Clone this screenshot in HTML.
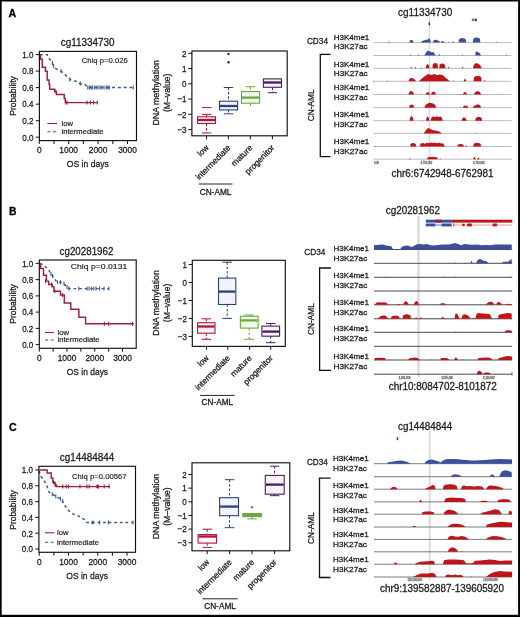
<!DOCTYPE html>
<html><head><meta charset="utf-8"><style>
html,body{margin:0;padding:0;background:#fff;width:520px;height:617px;overflow:hidden}
svg{display:block;filter:blur(0.3px)}
text{font-family:"Liberation Sans", sans-serif;stroke:currentColor;stroke-width:0.28px;paint-order:stroke}
</style></head><body>
<svg width="520" height="617" viewBox="0 0 520 617">
<rect width="520" height="617" fill="#fff"/>
<rect x="0.00" y="0.00" width="520.00" height="1.50" fill="#000"/>
<rect x="0.00" y="0.00" width="1.70" height="617.00" fill="#000"/>
<rect x="518.10" y="0.00" width="1.90" height="617.00" fill="#000"/>
<rect x="0.00" y="614.80" width="520.00" height="2.20" fill="#000"/>
<text x="8.40" y="16.90" font-size="11.8" fill="#000" color="#000" textLength="7.70" lengthAdjust="spacingAndGlyphs" font-weight="bold">A</text>
<text x="9.00" y="214.50" font-size="11.8" fill="#000" color="#000" textLength="7.50" lengthAdjust="spacingAndGlyphs" font-weight="bold">B</text>
<text x="9.10" y="431.20" font-size="11.8" fill="#000" color="#000" textLength="7.70" lengthAdjust="spacingAndGlyphs" font-weight="bold">C</text>
<path d="M39.90,54.60 L40.60,54.60 L40.60,59.20 L42.20,59.20 L42.20,67.30 L45.40,67.30 L45.40,71.30 L47.20,71.30 L47.20,80.00 L49.10,80.00 L49.10,84.60 L49.70,84.60 L49.70,89.20 L54.60,89.20 L54.60,91.20 L56.40,91.20 L56.40,94.40 L64.20,94.40 L64.20,98.50 L65.30,98.50 L65.30,102.60 L97.30,102.60" fill="none" stroke="#a0203c" stroke-width="1.45" stroke-linejoin="miter"/>
<line x1="55.00" y1="89.20" x2="55.00" y2="93.20" stroke="#a0203c" stroke-width="1.1"/>
<line x1="65.80" y1="100.60" x2="65.80" y2="104.60" stroke="#a0203c" stroke-width="1.1"/>
<line x1="67.00" y1="100.60" x2="67.00" y2="104.60" stroke="#a0203c" stroke-width="1.1"/>
<line x1="87.10" y1="100.60" x2="87.10" y2="104.60" stroke="#a0203c" stroke-width="1.1"/>
<line x1="90.30" y1="100.60" x2="90.30" y2="104.60" stroke="#a0203c" stroke-width="1.1"/>
<line x1="93.50" y1="100.60" x2="93.50" y2="104.60" stroke="#a0203c" stroke-width="1.1"/>
<line x1="97.30" y1="100.60" x2="97.30" y2="104.60" stroke="#a0203c" stroke-width="1.1"/>
<path d="M39.90,54.60 L47.40,54.60 L47.40,55.80 L50.80,61.00 L53.70,66.20 L55.50,68.50 L61.20,71.30 L64.70,74.20 L69.30,78.80 L71.60,80.60 L76.20,81.20 L79.70,83.50 L85.50,84.60 L87.20,87.50 L133.50,87.50" fill="none" stroke="#3d5a8f" stroke-width="1.45" stroke-dasharray="3,2.8" stroke-linejoin="miter"/>
<line x1="52.50" y1="61.00" x2="52.50" y2="65.00" stroke="#3d5a8f" stroke-width="1.1"/>
<line x1="53.70" y1="64.20" x2="53.70" y2="68.20" stroke="#3d5a8f" stroke-width="1.1"/>
<line x1="61.20" y1="69.30" x2="61.20" y2="73.30" stroke="#3d5a8f" stroke-width="1.1"/>
<line x1="69.90" y1="77.50" x2="69.90" y2="81.50" stroke="#3d5a8f" stroke-width="1.1"/>
<line x1="80.30" y1="81.50" x2="80.30" y2="85.50" stroke="#3d5a8f" stroke-width="1.1"/>
<line x1="87.80" y1="85.50" x2="87.80" y2="89.50" stroke="#3d5a8f" stroke-width="1.1"/>
<line x1="89.50" y1="85.50" x2="89.50" y2="89.50" stroke="#3d5a8f" stroke-width="1.1"/>
<line x1="91.00" y1="85.50" x2="91.00" y2="89.50" stroke="#3d5a8f" stroke-width="1.1"/>
<line x1="92.40" y1="85.50" x2="92.40" y2="89.50" stroke="#3d5a8f" stroke-width="1.1"/>
<line x1="94.30" y1="85.50" x2="94.30" y2="89.50" stroke="#3d5a8f" stroke-width="1.1"/>
<line x1="96.20" y1="85.50" x2="96.20" y2="89.50" stroke="#3d5a8f" stroke-width="1.1"/>
<line x1="98.10" y1="85.50" x2="98.10" y2="89.50" stroke="#3d5a8f" stroke-width="1.1"/>
<line x1="100.00" y1="85.50" x2="100.00" y2="89.50" stroke="#3d5a8f" stroke-width="1.1"/>
<line x1="101.90" y1="85.50" x2="101.90" y2="89.50" stroke="#3d5a8f" stroke-width="1.1"/>
<line x1="104.00" y1="85.50" x2="104.00" y2="89.50" stroke="#3d5a8f" stroke-width="1.1"/>
<line x1="106.20" y1="85.50" x2="106.20" y2="89.50" stroke="#3d5a8f" stroke-width="1.1"/>
<line x1="107.80" y1="85.50" x2="107.80" y2="89.50" stroke="#3d5a8f" stroke-width="1.1"/>
<line x1="109.30" y1="85.50" x2="109.30" y2="89.50" stroke="#3d5a8f" stroke-width="1.1"/>
<line x1="133.20" y1="85.50" x2="133.20" y2="89.50" stroke="#3d5a8f" stroke-width="1.1"/>
<rect x="39.40" y="51.40" width="97.10" height="89.20" fill="none" stroke="#111" stroke-width="1.15"/>
<line x1="35.80" y1="137.20" x2="39.40" y2="137.20" stroke="#111" stroke-width="1"/>
<text x="33.40" y="140.50" font-size="9.2" fill="#1c1c1c" color="#1c1c1c" text-anchor="end" textLength="11.12" lengthAdjust="spacingAndGlyphs">0.0</text>
<line x1="35.80" y1="120.68" x2="39.40" y2="120.68" stroke="#111" stroke-width="1"/>
<text x="33.40" y="123.98" font-size="9.2" fill="#1c1c1c" color="#1c1c1c" text-anchor="end" textLength="11.12" lengthAdjust="spacingAndGlyphs">0.2</text>
<line x1="35.80" y1="104.16" x2="39.40" y2="104.16" stroke="#111" stroke-width="1"/>
<text x="33.40" y="107.46" font-size="9.2" fill="#1c1c1c" color="#1c1c1c" text-anchor="end" textLength="11.12" lengthAdjust="spacingAndGlyphs">0.4</text>
<line x1="35.80" y1="87.64" x2="39.40" y2="87.64" stroke="#111" stroke-width="1"/>
<text x="33.40" y="90.94" font-size="9.2" fill="#1c1c1c" color="#1c1c1c" text-anchor="end" textLength="11.12" lengthAdjust="spacingAndGlyphs">0.6</text>
<line x1="35.80" y1="71.12" x2="39.40" y2="71.12" stroke="#111" stroke-width="1"/>
<text x="33.40" y="74.42" font-size="9.2" fill="#1c1c1c" color="#1c1c1c" text-anchor="end" textLength="11.12" lengthAdjust="spacingAndGlyphs">0.8</text>
<line x1="35.80" y1="54.60" x2="39.40" y2="54.60" stroke="#111" stroke-width="1"/>
<text x="33.40" y="57.90" font-size="9.2" fill="#1c1c1c" color="#1c1c1c" text-anchor="end" textLength="11.12" lengthAdjust="spacingAndGlyphs">1.0</text>
<line x1="39.25" y1="140.60" x2="39.25" y2="144.00" stroke="#111" stroke-width="1"/>
<text x="39.25" y="153.20" font-size="9.2" fill="#1c1c1c" color="#1c1c1c" text-anchor="middle" textLength="4.67" lengthAdjust="spacingAndGlyphs">0</text>
<line x1="53.96" y1="140.60" x2="53.96" y2="144.00" stroke="#111" stroke-width="1"/>
<line x1="68.67" y1="140.60" x2="68.67" y2="144.00" stroke="#111" stroke-width="1"/>
<text x="68.67" y="153.20" font-size="9.2" fill="#1c1c1c" color="#1c1c1c" text-anchor="middle" textLength="18.69" lengthAdjust="spacingAndGlyphs">1000</text>
<line x1="83.38" y1="140.60" x2="83.38" y2="144.00" stroke="#111" stroke-width="1"/>
<line x1="98.09" y1="140.60" x2="98.09" y2="144.00" stroke="#111" stroke-width="1"/>
<text x="98.09" y="153.20" font-size="9.2" fill="#1c1c1c" color="#1c1c1c" text-anchor="middle" textLength="18.69" lengthAdjust="spacingAndGlyphs">2000</text>
<line x1="112.80" y1="140.60" x2="112.80" y2="144.00" stroke="#111" stroke-width="1"/>
<line x1="127.51" y1="140.60" x2="127.51" y2="144.00" stroke="#111" stroke-width="1"/>
<text x="127.51" y="153.20" font-size="9.2" fill="#1c1c1c" color="#1c1c1c" text-anchor="middle" textLength="18.69" lengthAdjust="spacingAndGlyphs">3000</text>
<text x="60.80" y="45.70" font-size="10.2" fill="#1c1c1c" color="#1c1c1c" textLength="53.80" lengthAdjust="spacingAndGlyphs">cg11334730</text>
<text x="81.80" y="62.80" font-size="7.9" fill="#1c1c1c" color="#1c1c1c" textLength="45.90" lengthAdjust="spacingAndGlyphs" style="stroke-width:0.16px">Chiq p=0.026</text>
<text x="66.80" y="167.00" font-size="9.9" fill="#1c1c1c" color="#1c1c1c" textLength="42.00" lengthAdjust="spacingAndGlyphs">OS in days</text>
<text x="15.70" y="96.00" font-size="9.6" fill="#1c1c1c" color="#1c1c1c" text-anchor="middle" textLength="39.50" lengthAdjust="spacingAndGlyphs" transform="rotate(-90 15.70 96.00)">Probability</text>
<line x1="47.40" y1="123.50" x2="57.20" y2="123.50" stroke="#a0203c" stroke-width="1.1"/>
<line x1="47.40" y1="131.80" x2="57.20" y2="131.80" stroke="#3d5a8f" stroke-width="1.1" stroke-dasharray="3.2,2.4"/>
<text x="61.50" y="125.80" font-size="7.9" fill="#1c1c1c" color="#1c1c1c" textLength="11.50" lengthAdjust="spacingAndGlyphs" style="stroke-width:0.2px">low</text>
<text x="61.50" y="134.20" font-size="7.9" fill="#1c1c1c" color="#1c1c1c" textLength="42.00" lengthAdjust="spacingAndGlyphs" style="stroke-width:0.2px">intermediate</text>
<path d="M39.90,263.40 L40.60,263.40 L40.60,268.40 L43.50,268.40 L43.50,275.30 L46.40,275.30 L46.40,281.10 L48.70,281.10 L48.70,284.50 L52.20,284.50 L52.20,286.80 L53.90,286.80 L53.90,291.20 L60.50,291.20 L60.50,295.00 L64.30,295.00 L64.30,303.00 L70.80,303.00 L70.80,309.30 L78.90,309.30 L78.90,317.20 L85.60,317.20 L85.60,323.80 L133.80,323.80" fill="none" stroke="#a0203c" stroke-width="1.45" stroke-linejoin="miter"/>
<line x1="45.50" y1="279.10" x2="45.50" y2="283.10" stroke="#a0203c" stroke-width="1.1"/>
<line x1="51.50" y1="282.50" x2="51.50" y2="286.50" stroke="#a0203c" stroke-width="1.1"/>
<line x1="54.80" y1="289.20" x2="54.80" y2="293.20" stroke="#a0203c" stroke-width="1.1"/>
<line x1="62.50" y1="293.00" x2="62.50" y2="297.00" stroke="#a0203c" stroke-width="1.1"/>
<line x1="104.40" y1="321.80" x2="104.40" y2="325.80" stroke="#a0203c" stroke-width="1.1"/>
<line x1="108.70" y1="321.80" x2="108.70" y2="325.80" stroke="#a0203c" stroke-width="1.1"/>
<line x1="132.50" y1="321.80" x2="132.50" y2="325.80" stroke="#a0203c" stroke-width="1.1"/>
<path d="M39.90,263.40 L42.30,264.60 L45.00,266.50 L47.50,268.20 L49.80,271.80 L52.20,275.30 L54.50,278.80 L56.80,282.20 L60.20,282.20 L62.50,282.80 L66.00,285.70 L68.90,288.60 L108.80,288.60" fill="none" stroke="#3d5a8f" stroke-width="1.45" stroke-dasharray="2.8,2.8" stroke-linejoin="miter"/>
<line x1="51.00" y1="272.00" x2="51.00" y2="276.00" stroke="#3d5a8f" stroke-width="1.1"/>
<line x1="52.50" y1="274.00" x2="52.50" y2="278.00" stroke="#3d5a8f" stroke-width="1.1"/>
<line x1="57.50" y1="280.20" x2="57.50" y2="284.20" stroke="#3d5a8f" stroke-width="1.1"/>
<line x1="60.50" y1="280.20" x2="60.50" y2="284.20" stroke="#3d5a8f" stroke-width="1.1"/>
<line x1="64.00" y1="281.50" x2="64.00" y2="285.50" stroke="#3d5a8f" stroke-width="1.1"/>
<line x1="67.00" y1="285.00" x2="67.00" y2="289.00" stroke="#3d5a8f" stroke-width="1.1"/>
<line x1="69.00" y1="286.60" x2="69.00" y2="290.60" stroke="#3d5a8f" stroke-width="1.1"/>
<line x1="78.80" y1="286.60" x2="78.80" y2="290.60" stroke="#3d5a8f" stroke-width="1.1"/>
<line x1="87.00" y1="286.60" x2="87.00" y2="290.60" stroke="#3d5a8f" stroke-width="1.1"/>
<line x1="89.00" y1="286.60" x2="89.00" y2="290.60" stroke="#3d5a8f" stroke-width="1.1"/>
<line x1="91.50" y1="286.60" x2="91.50" y2="290.60" stroke="#3d5a8f" stroke-width="1.1"/>
<line x1="93.80" y1="286.60" x2="93.80" y2="290.60" stroke="#3d5a8f" stroke-width="1.1"/>
<line x1="96.00" y1="286.60" x2="96.00" y2="290.60" stroke="#3d5a8f" stroke-width="1.1"/>
<line x1="99.60" y1="286.60" x2="99.60" y2="290.60" stroke="#3d5a8f" stroke-width="1.1"/>
<line x1="104.00" y1="286.60" x2="104.00" y2="290.60" stroke="#3d5a8f" stroke-width="1.1"/>
<line x1="108.80" y1="286.60" x2="108.80" y2="290.60" stroke="#3d5a8f" stroke-width="1.1"/>
<rect x="39.30" y="260.00" width="96.90" height="88.30" fill="none" stroke="#111" stroke-width="1.15"/>
<line x1="35.70" y1="344.60" x2="39.30" y2="344.60" stroke="#111" stroke-width="1"/>
<text x="33.30" y="347.90" font-size="9.2" fill="#1c1c1c" color="#1c1c1c" text-anchor="end" textLength="11.12" lengthAdjust="spacingAndGlyphs">0.0</text>
<line x1="35.70" y1="328.36" x2="39.30" y2="328.36" stroke="#111" stroke-width="1"/>
<text x="33.30" y="331.66" font-size="9.2" fill="#1c1c1c" color="#1c1c1c" text-anchor="end" textLength="11.12" lengthAdjust="spacingAndGlyphs">0.2</text>
<line x1="35.70" y1="312.12" x2="39.30" y2="312.12" stroke="#111" stroke-width="1"/>
<text x="33.30" y="315.42" font-size="9.2" fill="#1c1c1c" color="#1c1c1c" text-anchor="end" textLength="11.12" lengthAdjust="spacingAndGlyphs">0.4</text>
<line x1="35.70" y1="295.88" x2="39.30" y2="295.88" stroke="#111" stroke-width="1"/>
<text x="33.30" y="299.18" font-size="9.2" fill="#1c1c1c" color="#1c1c1c" text-anchor="end" textLength="11.12" lengthAdjust="spacingAndGlyphs">0.6</text>
<line x1="35.70" y1="279.64" x2="39.30" y2="279.64" stroke="#111" stroke-width="1"/>
<text x="33.30" y="282.94" font-size="9.2" fill="#1c1c1c" color="#1c1c1c" text-anchor="end" textLength="11.12" lengthAdjust="spacingAndGlyphs">0.8</text>
<line x1="35.70" y1="263.40" x2="39.30" y2="263.40" stroke="#111" stroke-width="1"/>
<text x="33.30" y="266.70" font-size="9.2" fill="#1c1c1c" color="#1c1c1c" text-anchor="end" textLength="11.12" lengthAdjust="spacingAndGlyphs">1.0</text>
<line x1="39.25" y1="348.30" x2="39.25" y2="351.70" stroke="#111" stroke-width="1"/>
<text x="39.25" y="361.40" font-size="9.2" fill="#1c1c1c" color="#1c1c1c" text-anchor="middle" textLength="4.67" lengthAdjust="spacingAndGlyphs">0</text>
<line x1="53.12" y1="348.30" x2="53.12" y2="351.70" stroke="#111" stroke-width="1"/>
<line x1="67.00" y1="348.30" x2="67.00" y2="351.70" stroke="#111" stroke-width="1"/>
<text x="67.00" y="361.40" font-size="9.2" fill="#1c1c1c" color="#1c1c1c" text-anchor="middle" textLength="18.69" lengthAdjust="spacingAndGlyphs">1000</text>
<line x1="80.88" y1="348.30" x2="80.88" y2="351.70" stroke="#111" stroke-width="1"/>
<line x1="94.75" y1="348.30" x2="94.75" y2="351.70" stroke="#111" stroke-width="1"/>
<text x="94.75" y="361.40" font-size="9.2" fill="#1c1c1c" color="#1c1c1c" text-anchor="middle" textLength="18.69" lengthAdjust="spacingAndGlyphs">2000</text>
<line x1="108.62" y1="348.30" x2="108.62" y2="351.70" stroke="#111" stroke-width="1"/>
<line x1="122.50" y1="348.30" x2="122.50" y2="351.70" stroke="#111" stroke-width="1"/>
<text x="122.50" y="361.40" font-size="9.2" fill="#1c1c1c" color="#1c1c1c" text-anchor="middle" textLength="18.69" lengthAdjust="spacingAndGlyphs">3000</text>
<text x="59.60" y="254.50" font-size="10.2" fill="#1c1c1c" color="#1c1c1c" textLength="53.80" lengthAdjust="spacingAndGlyphs">cg20281962</text>
<text x="70.80" y="268.50" font-size="7.9" fill="#1c1c1c" color="#1c1c1c" textLength="56.50" lengthAdjust="spacingAndGlyphs" style="stroke-width:0.16px">Chiq p=0.0131</text>
<text x="66.80" y="375.00" font-size="9.9" fill="#1c1c1c" color="#1c1c1c" textLength="41.30" lengthAdjust="spacingAndGlyphs">OS in days</text>
<text x="15.70" y="304.00" font-size="9.6" fill="#1c1c1c" color="#1c1c1c" text-anchor="middle" textLength="39.50" lengthAdjust="spacingAndGlyphs" transform="rotate(-90 15.70 304.00)">Probability</text>
<line x1="45.00" y1="332.50" x2="53.80" y2="332.50" stroke="#a0203c" stroke-width="1.1"/>
<line x1="45.00" y1="340.00" x2="53.80" y2="340.00" stroke="#3d5a8f" stroke-width="1.1" stroke-dasharray="3.2,2.4"/>
<text x="57.50" y="334.80" font-size="7.9" fill="#1c1c1c" color="#1c1c1c" textLength="11.50" lengthAdjust="spacingAndGlyphs" style="stroke-width:0.2px">low</text>
<text x="57.50" y="342.40" font-size="7.9" fill="#1c1c1c" color="#1c1c1c" textLength="42.00" lengthAdjust="spacingAndGlyphs" style="stroke-width:0.2px">intermediate</text>
<path d="M39.40,470.00 L47.20,470.00 L47.20,473.00 L51.20,473.00 L51.20,478.00 L52.80,478.00 L52.80,482.20 L55.00,482.20 L55.00,485.00 L56.50,485.00 L56.50,486.60 L110.00,486.60" fill="none" stroke="#a0203c" stroke-width="1.45" stroke-linejoin="miter"/>
<line x1="53.50" y1="480.20" x2="53.50" y2="484.20" stroke="#a0203c" stroke-width="1.1"/>
<line x1="55.50" y1="483.00" x2="55.50" y2="487.00" stroke="#a0203c" stroke-width="1.1"/>
<line x1="62.70" y1="484.60" x2="62.70" y2="488.60" stroke="#a0203c" stroke-width="1.1"/>
<line x1="66.20" y1="484.60" x2="66.20" y2="488.60" stroke="#a0203c" stroke-width="1.1"/>
<line x1="68.50" y1="484.60" x2="68.50" y2="488.60" stroke="#a0203c" stroke-width="1.1"/>
<line x1="80.00" y1="484.60" x2="80.00" y2="488.60" stroke="#a0203c" stroke-width="1.1"/>
<line x1="86.90" y1="484.60" x2="86.90" y2="488.60" stroke="#a0203c" stroke-width="1.1"/>
<line x1="89.20" y1="484.60" x2="89.20" y2="488.60" stroke="#a0203c" stroke-width="1.1"/>
<line x1="97.30" y1="484.60" x2="97.30" y2="488.60" stroke="#a0203c" stroke-width="1.1"/>
<line x1="98.50" y1="484.60" x2="98.50" y2="488.60" stroke="#a0203c" stroke-width="1.1"/>
<line x1="104.20" y1="484.60" x2="104.20" y2="488.60" stroke="#a0203c" stroke-width="1.1"/>
<line x1="108.90" y1="484.60" x2="108.90" y2="488.60" stroke="#a0203c" stroke-width="1.1"/>
<path d="M39.40,471.00 L39.60,474.60 L43.00,479.20 L46.50,484.50 L48.80,491.90 L52.30,494.20 L55.80,496.50 L60.40,498.80 L62.70,501.20 L65.00,505.80 L68.50,510.40 L73.00,513.80 L78.80,516.20 L84.60,519.60 L86.90,522.40 L133.00,522.40" fill="none" stroke="#3d5a8f" stroke-width="1.45" stroke-dasharray="2.8,2.8" stroke-linejoin="miter"/>
<line x1="52.30" y1="492.20" x2="52.30" y2="496.20" stroke="#3d5a8f" stroke-width="1.1"/>
<line x1="55.80" y1="494.50" x2="55.80" y2="498.50" stroke="#3d5a8f" stroke-width="1.1"/>
<line x1="60.40" y1="496.80" x2="60.40" y2="500.80" stroke="#3d5a8f" stroke-width="1.1"/>
<line x1="62.70" y1="499.20" x2="62.70" y2="503.20" stroke="#3d5a8f" stroke-width="1.1"/>
<line x1="92.70" y1="520.40" x2="92.70" y2="524.40" stroke="#3d5a8f" stroke-width="1.1"/>
<line x1="99.60" y1="520.40" x2="99.60" y2="524.40" stroke="#3d5a8f" stroke-width="1.1"/>
<line x1="108.40" y1="520.40" x2="108.40" y2="524.40" stroke="#3d5a8f" stroke-width="1.1"/>
<line x1="133.00" y1="520.40" x2="133.00" y2="524.40" stroke="#3d5a8f" stroke-width="1.1"/>
<rect x="38.90" y="466.30" width="96.60" height="86.00" fill="none" stroke="#111" stroke-width="1.15"/>
<line x1="35.30" y1="549.00" x2="38.90" y2="549.00" stroke="#111" stroke-width="1"/>
<text x="32.90" y="552.30" font-size="9.2" fill="#1c1c1c" color="#1c1c1c" text-anchor="end" textLength="11.12" lengthAdjust="spacingAndGlyphs">0.0</text>
<line x1="35.30" y1="533.20" x2="38.90" y2="533.20" stroke="#111" stroke-width="1"/>
<text x="32.90" y="536.50" font-size="9.2" fill="#1c1c1c" color="#1c1c1c" text-anchor="end" textLength="11.12" lengthAdjust="spacingAndGlyphs">0.2</text>
<line x1="35.30" y1="517.40" x2="38.90" y2="517.40" stroke="#111" stroke-width="1"/>
<text x="32.90" y="520.70" font-size="9.2" fill="#1c1c1c" color="#1c1c1c" text-anchor="end" textLength="11.12" lengthAdjust="spacingAndGlyphs">0.4</text>
<line x1="35.30" y1="501.60" x2="38.90" y2="501.60" stroke="#111" stroke-width="1"/>
<text x="32.90" y="504.90" font-size="9.2" fill="#1c1c1c" color="#1c1c1c" text-anchor="end" textLength="11.12" lengthAdjust="spacingAndGlyphs">0.6</text>
<line x1="35.30" y1="485.80" x2="38.90" y2="485.80" stroke="#111" stroke-width="1"/>
<text x="32.90" y="489.10" font-size="9.2" fill="#1c1c1c" color="#1c1c1c" text-anchor="end" textLength="11.12" lengthAdjust="spacingAndGlyphs">0.8</text>
<line x1="35.30" y1="470.00" x2="38.90" y2="470.00" stroke="#111" stroke-width="1"/>
<text x="32.90" y="473.30" font-size="9.2" fill="#1c1c1c" color="#1c1c1c" text-anchor="end" textLength="11.12" lengthAdjust="spacingAndGlyphs">1.0</text>
<line x1="39.25" y1="552.30" x2="39.25" y2="555.70" stroke="#111" stroke-width="1"/>
<text x="39.25" y="565.20" font-size="9.2" fill="#1c1c1c" color="#1c1c1c" text-anchor="middle" textLength="4.67" lengthAdjust="spacingAndGlyphs">0</text>
<line x1="53.88" y1="552.30" x2="53.88" y2="555.70" stroke="#111" stroke-width="1"/>
<line x1="68.50" y1="552.30" x2="68.50" y2="555.70" stroke="#111" stroke-width="1"/>
<text x="68.50" y="565.20" font-size="9.2" fill="#1c1c1c" color="#1c1c1c" text-anchor="middle" textLength="18.69" lengthAdjust="spacingAndGlyphs">1000</text>
<line x1="83.12" y1="552.30" x2="83.12" y2="555.70" stroke="#111" stroke-width="1"/>
<line x1="97.75" y1="552.30" x2="97.75" y2="555.70" stroke="#111" stroke-width="1"/>
<text x="97.75" y="565.20" font-size="9.2" fill="#1c1c1c" color="#1c1c1c" text-anchor="middle" textLength="18.69" lengthAdjust="spacingAndGlyphs">2000</text>
<line x1="112.38" y1="552.30" x2="112.38" y2="555.70" stroke="#111" stroke-width="1"/>
<line x1="127.00" y1="552.30" x2="127.00" y2="555.70" stroke="#111" stroke-width="1"/>
<text x="127.00" y="565.20" font-size="9.2" fill="#1c1c1c" color="#1c1c1c" text-anchor="middle" textLength="18.69" lengthAdjust="spacingAndGlyphs">3000</text>
<text x="59.80" y="460.90" font-size="10.2" fill="#1c1c1c" color="#1c1c1c" textLength="54.60" lengthAdjust="spacingAndGlyphs">cg14484844</text>
<text x="71.90" y="478.50" font-size="7.9" fill="#1c1c1c" color="#1c1c1c" textLength="54.70" lengthAdjust="spacingAndGlyphs" style="stroke-width:0.16px">Chiq p=0.00567</text>
<text x="66.30" y="578.80" font-size="9.9" fill="#1c1c1c" color="#1c1c1c" textLength="41.70" lengthAdjust="spacingAndGlyphs">OS in days</text>
<text x="15.70" y="510.00" font-size="9.6" fill="#1c1c1c" color="#1c1c1c" text-anchor="middle" textLength="39.50" lengthAdjust="spacingAndGlyphs" transform="rotate(-90 15.70 510.00)">Probability</text>
<line x1="45.00" y1="532.80" x2="54.60" y2="532.80" stroke="#a0203c" stroke-width="1.1"/>
<line x1="45.00" y1="542.20" x2="54.60" y2="542.20" stroke="#3d5a8f" stroke-width="1.1" stroke-dasharray="3.2,2.4"/>
<text x="57.00" y="535.10" font-size="7.9" fill="#1c1c1c" color="#1c1c1c" textLength="11.50" lengthAdjust="spacingAndGlyphs" style="stroke-width:0.2px">low</text>
<text x="57.00" y="544.60" font-size="7.9" fill="#1c1c1c" color="#1c1c1c" textLength="42.00" lengthAdjust="spacingAndGlyphs" style="stroke-width:0.2px">intermediate</text>
<circle cx="97.3" cy="486.6" r="1.5" fill="#a0203c"/>
<circle cx="92.7" cy="522.4" r="1.5" fill="#3d5a8f"/>
<line x1="206.50" y1="114.40" x2="206.50" y2="116.80" stroke="#a8183a" stroke-width="1" stroke-dasharray="2.6,1.8"/>
<line x1="201.75" y1="114.40" x2="211.25" y2="114.40" stroke="#a8183a" stroke-width="1"/>
<line x1="206.50" y1="123.50" x2="206.50" y2="133.00" stroke="#a8183a" stroke-width="1" stroke-dasharray="2.6,1.8"/>
<line x1="201.75" y1="133.00" x2="211.25" y2="133.00" stroke="#a8183a" stroke-width="1"/>
<rect x="197.50" y="116.80" width="18.00" height="6.70" fill="#fdf1f4" stroke="#a8183a" stroke-width="1.1"/>
<line x1="198.00" y1="120.00" x2="215.00" y2="120.00" stroke="#a8183a" stroke-width="2.3"/>
<line x1="228.50" y1="87.50" x2="228.50" y2="101.20" stroke="#2b4080" stroke-width="1" stroke-dasharray="2.6,1.8"/>
<line x1="223.75" y1="87.50" x2="233.25" y2="87.50" stroke="#2b4080" stroke-width="1"/>
<line x1="228.50" y1="109.90" x2="228.50" y2="113.80" stroke="#2b4080" stroke-width="1" stroke-dasharray="2.6,1.8"/>
<line x1="223.75" y1="113.80" x2="233.25" y2="113.80" stroke="#2b4080" stroke-width="1"/>
<rect x="219.50" y="101.20" width="18.10" height="8.70" fill="#f1f4fb" stroke="#2b4080" stroke-width="1.1"/>
<line x1="220.00" y1="106.00" x2="237.10" y2="106.00" stroke="#2b4080" stroke-width="2.3"/>
<line x1="250.50" y1="86.70" x2="250.50" y2="91.60" stroke="#68aa3a" stroke-width="1" stroke-dasharray="2.6,1.8"/>
<line x1="245.75" y1="86.70" x2="255.25" y2="86.70" stroke="#68aa3a" stroke-width="1"/>
<line x1="250.50" y1="103.20" x2="250.50" y2="107.30" stroke="#68aa3a" stroke-width="1" stroke-dasharray="2.6,1.8"/>
<rect x="241.50" y="91.60" width="18.10" height="11.60" fill="#f3faee" stroke="#68aa3a" stroke-width="1.1"/>
<line x1="242.00" y1="97.60" x2="259.10" y2="97.60" stroke="#68aa3a" stroke-width="2.3"/>
<line x1="272.50" y1="87.30" x2="272.50" y2="92.70" stroke="#4a1f5e" stroke-width="1" stroke-dasharray="2.6,1.8"/>
<line x1="267.75" y1="92.70" x2="277.25" y2="92.70" stroke="#4a1f5e" stroke-width="1"/>
<rect x="263.40" y="78.90" width="18.10" height="8.40" fill="#f8f1fa" stroke="#4a1f5e" stroke-width="1.1"/>
<line x1="263.90" y1="82.50" x2="281.00" y2="82.50" stroke="#4a1f5e" stroke-width="2.3"/>
<circle cx="228.5" cy="54.0" r="1.2" fill="#1a2a55"/>
<circle cx="228.5" cy="62.2" r="1.2" fill="#1a2a55"/>
<line x1="202.00" y1="107.60" x2="211.50" y2="107.60" stroke="#b3173b" stroke-width="1"/>
<rect x="191.90" y="51.00" width="95.30" height="84.80" fill="none" stroke="#111" stroke-width="1.15"/>
<line x1="188.30" y1="53.28" x2="191.90" y2="53.28" stroke="#111" stroke-width="1"/>
<text x="186.50" y="56.58" font-size="9.2" fill="#1c1c1c" color="#1c1c1c" text-anchor="end" textLength="4.45" lengthAdjust="spacingAndGlyphs">2</text>
<line x1="188.30" y1="68.54" x2="191.90" y2="68.54" stroke="#111" stroke-width="1"/>
<text x="186.50" y="71.84" font-size="9.2" fill="#1c1c1c" color="#1c1c1c" text-anchor="end" textLength="4.45" lengthAdjust="spacingAndGlyphs">1</text>
<line x1="188.30" y1="83.80" x2="191.90" y2="83.80" stroke="#111" stroke-width="1"/>
<text x="186.50" y="87.10" font-size="9.2" fill="#1c1c1c" color="#1c1c1c" text-anchor="end" textLength="4.45" lengthAdjust="spacingAndGlyphs">0</text>
<line x1="188.30" y1="99.06" x2="191.90" y2="99.06" stroke="#111" stroke-width="1"/>
<text x="186.50" y="102.36" font-size="9.2" fill="#1c1c1c" color="#1c1c1c" text-anchor="end" textLength="9.12" lengthAdjust="spacingAndGlyphs">−1</text>
<line x1="188.30" y1="114.32" x2="191.90" y2="114.32" stroke="#111" stroke-width="1"/>
<text x="186.50" y="117.62" font-size="9.2" fill="#1c1c1c" color="#1c1c1c" text-anchor="end" textLength="9.12" lengthAdjust="spacingAndGlyphs">−2</text>
<line x1="188.30" y1="129.58" x2="191.90" y2="129.58" stroke="#111" stroke-width="1"/>
<text x="186.50" y="132.88" font-size="9.2" fill="#1c1c1c" color="#1c1c1c" text-anchor="end" textLength="9.12" lengthAdjust="spacingAndGlyphs">−3</text>
<line x1="206.50" y1="135.80" x2="206.50" y2="139.20" stroke="#111" stroke-width="1"/>
<text x="209.20" y="148.30" font-size="8.4" fill="#1c1c1c" color="#1c1c1c" text-anchor="end" textLength="11.80" lengthAdjust="spacingAndGlyphs" transform="rotate(-45 209.20 148.30)">low</text>
<line x1="228.40" y1="135.80" x2="228.40" y2="139.20" stroke="#111" stroke-width="1"/>
<text x="231.10" y="148.30" font-size="8.4" fill="#1c1c1c" color="#1c1c1c" text-anchor="end" textLength="45.20" lengthAdjust="spacingAndGlyphs" transform="rotate(-45 231.10 148.30)">intermediate</text>
<line x1="250.40" y1="135.80" x2="250.40" y2="139.20" stroke="#111" stroke-width="1"/>
<text x="253.10" y="148.30" font-size="8.4" fill="#1c1c1c" color="#1c1c1c" text-anchor="end" textLength="26.20" lengthAdjust="spacingAndGlyphs" transform="rotate(-45 253.10 148.30)">mature</text>
<line x1="272.40" y1="135.80" x2="272.40" y2="139.20" stroke="#111" stroke-width="1"/>
<text x="275.10" y="148.30" font-size="8.4" fill="#1c1c1c" color="#1c1c1c" text-anchor="end" textLength="37.80" lengthAdjust="spacingAndGlyphs" transform="rotate(-45 275.10 148.30)">progenitor</text>
<line x1="198.60" y1="184.00" x2="232.50" y2="184.00" stroke="#222" stroke-width="1"/>
<text x="215.55" y="194.50" font-size="8.6" fill="#1c1c1c" color="#1c1c1c" text-anchor="middle" textLength="31.80" lengthAdjust="spacingAndGlyphs">CN-AML</text>
<text x="159.30" y="92.80" font-size="9.8" fill="#1c1c1c" color="#1c1c1c" text-anchor="middle" textLength="65.50" lengthAdjust="spacingAndGlyphs" transform="rotate(-90 159.30 92.80)">DNA methylation</text>
<text x="170.20" y="92.80" font-size="9.8" fill="#1c1c1c" color="#1c1c1c" text-anchor="middle" textLength="38.50" lengthAdjust="spacingAndGlyphs" transform="rotate(-90 170.20 92.80)">(M–value)</text>
<line x1="206.30" y1="318.80" x2="206.30" y2="322.70" stroke="#a8183a" stroke-width="1" stroke-dasharray="2.6,1.8"/>
<line x1="201.55" y1="318.80" x2="211.05" y2="318.80" stroke="#a8183a" stroke-width="1"/>
<line x1="206.30" y1="333.20" x2="206.30" y2="339.30" stroke="#a8183a" stroke-width="1" stroke-dasharray="2.6,1.8"/>
<line x1="201.55" y1="339.30" x2="211.05" y2="339.30" stroke="#a8183a" stroke-width="1"/>
<rect x="197.60" y="322.70" width="17.40" height="10.50" fill="#fdf1f4" stroke="#a8183a" stroke-width="1.1"/>
<line x1="198.10" y1="326.50" x2="214.50" y2="326.50" stroke="#a8183a" stroke-width="2.3"/>
<line x1="227.20" y1="262.20" x2="227.20" y2="278.10" stroke="#2b4080" stroke-width="1" stroke-dasharray="2.6,1.8"/>
<line x1="222.45" y1="262.20" x2="231.95" y2="262.20" stroke="#2b4080" stroke-width="1"/>
<line x1="227.20" y1="304.50" x2="227.20" y2="318.40" stroke="#2b4080" stroke-width="1" stroke-dasharray="2.6,1.8"/>
<line x1="222.45" y1="318.40" x2="231.95" y2="318.40" stroke="#2b4080" stroke-width="1"/>
<rect x="218.50" y="278.10" width="17.30" height="26.40" fill="#f1f4fb" stroke="#2b4080" stroke-width="1.1"/>
<line x1="219.00" y1="291.60" x2="235.30" y2="291.60" stroke="#2b4080" stroke-width="2.3"/>
<line x1="249.20" y1="315.00" x2="249.20" y2="316.20" stroke="#68aa3a" stroke-width="1" stroke-dasharray="2.6,1.8"/>
<line x1="244.45" y1="315.00" x2="253.95" y2="315.00" stroke="#68aa3a" stroke-width="1"/>
<line x1="249.20" y1="328.10" x2="249.20" y2="339.30" stroke="#68aa3a" stroke-width="1" stroke-dasharray="2.6,1.8"/>
<line x1="244.45" y1="339.30" x2="253.95" y2="339.30" stroke="#68aa3a" stroke-width="1"/>
<rect x="240.40" y="316.20" width="17.70" height="11.90" fill="#f3faee" stroke="#68aa3a" stroke-width="1.1"/>
<line x1="240.90" y1="320.40" x2="257.60" y2="320.40" stroke="#68aa3a" stroke-width="2.3"/>
<line x1="270.70" y1="323.50" x2="270.70" y2="326.10" stroke="#4a1f5e" stroke-width="1" stroke-dasharray="2.6,1.8"/>
<line x1="265.95" y1="323.50" x2="275.45" y2="323.50" stroke="#4a1f5e" stroke-width="1"/>
<line x1="270.70" y1="336.20" x2="270.70" y2="342.70" stroke="#4a1f5e" stroke-width="1" stroke-dasharray="2.6,1.8"/>
<line x1="265.95" y1="342.70" x2="275.45" y2="342.70" stroke="#4a1f5e" stroke-width="1"/>
<rect x="261.90" y="326.10" width="17.70" height="10.10" fill="#f8f1fa" stroke="#4a1f5e" stroke-width="1.1"/>
<line x1="262.40" y1="331.60" x2="279.10" y2="331.60" stroke="#4a1f5e" stroke-width="2.3"/>
<rect x="192.30" y="260.30" width="93.00" height="86.10" fill="none" stroke="#111" stroke-width="1.15"/>
<line x1="188.70" y1="264.53" x2="192.30" y2="264.53" stroke="#111" stroke-width="1"/>
<text x="186.90" y="267.83" font-size="9.2" fill="#1c1c1c" color="#1c1c1c" text-anchor="end" textLength="4.45" lengthAdjust="spacingAndGlyphs">1</text>
<line x1="188.70" y1="282.50" x2="192.30" y2="282.50" stroke="#111" stroke-width="1"/>
<text x="186.90" y="285.80" font-size="9.2" fill="#1c1c1c" color="#1c1c1c" text-anchor="end" textLength="4.45" lengthAdjust="spacingAndGlyphs">0</text>
<line x1="188.70" y1="300.47" x2="192.30" y2="300.47" stroke="#111" stroke-width="1"/>
<text x="186.90" y="303.77" font-size="9.2" fill="#1c1c1c" color="#1c1c1c" text-anchor="end" textLength="9.12" lengthAdjust="spacingAndGlyphs">−1</text>
<line x1="188.70" y1="318.44" x2="192.30" y2="318.44" stroke="#111" stroke-width="1"/>
<text x="186.90" y="321.74" font-size="9.2" fill="#1c1c1c" color="#1c1c1c" text-anchor="end" textLength="9.12" lengthAdjust="spacingAndGlyphs">−2</text>
<line x1="188.70" y1="336.41" x2="192.30" y2="336.41" stroke="#111" stroke-width="1"/>
<text x="186.90" y="339.71" font-size="9.2" fill="#1c1c1c" color="#1c1c1c" text-anchor="end" textLength="9.12" lengthAdjust="spacingAndGlyphs">−3</text>
<line x1="206.50" y1="346.40" x2="206.50" y2="349.80" stroke="#111" stroke-width="1"/>
<text x="209.20" y="358.70" font-size="8.4" fill="#1c1c1c" color="#1c1c1c" text-anchor="end" textLength="11.80" lengthAdjust="spacingAndGlyphs" transform="rotate(-45 209.20 358.70)">low</text>
<line x1="227.80" y1="346.40" x2="227.80" y2="349.80" stroke="#111" stroke-width="1"/>
<text x="230.50" y="358.70" font-size="8.4" fill="#1c1c1c" color="#1c1c1c" text-anchor="end" textLength="45.20" lengthAdjust="spacingAndGlyphs" transform="rotate(-45 230.50 358.70)">intermediate</text>
<line x1="249.60" y1="346.40" x2="249.60" y2="349.80" stroke="#111" stroke-width="1"/>
<text x="252.30" y="358.70" font-size="8.4" fill="#1c1c1c" color="#1c1c1c" text-anchor="end" textLength="26.20" lengthAdjust="spacingAndGlyphs" transform="rotate(-45 252.30 358.70)">mature</text>
<line x1="270.70" y1="346.40" x2="270.70" y2="349.80" stroke="#111" stroke-width="1"/>
<text x="273.40" y="358.70" font-size="8.4" fill="#1c1c1c" color="#1c1c1c" text-anchor="end" textLength="37.80" lengthAdjust="spacingAndGlyphs" transform="rotate(-45 273.40 358.70)">progenitor</text>
<line x1="200.10" y1="395.40" x2="234.60" y2="395.40" stroke="#222" stroke-width="1"/>
<text x="217.35" y="404.50" font-size="8.6" fill="#1c1c1c" color="#1c1c1c" text-anchor="middle" textLength="31.80" lengthAdjust="spacingAndGlyphs">CN-AML</text>
<text x="159.30" y="302.90" font-size="9.8" fill="#1c1c1c" color="#1c1c1c" text-anchor="middle" textLength="65.50" lengthAdjust="spacingAndGlyphs" transform="rotate(-90 159.30 302.90)">DNA methylation</text>
<text x="170.20" y="302.90" font-size="9.8" fill="#1c1c1c" color="#1c1c1c" text-anchor="middle" textLength="38.50" lengthAdjust="spacingAndGlyphs" transform="rotate(-90 170.20 302.90)">(M–value)</text>
<line x1="207.30" y1="529.20" x2="207.30" y2="534.60" stroke="#a8183a" stroke-width="1" stroke-dasharray="2.6,1.8"/>
<line x1="202.55" y1="529.20" x2="212.05" y2="529.20" stroke="#a8183a" stroke-width="1"/>
<line x1="207.30" y1="543.10" x2="207.30" y2="547.40" stroke="#a8183a" stroke-width="1" stroke-dasharray="2.6,1.8"/>
<line x1="202.55" y1="547.40" x2="212.05" y2="547.40" stroke="#a8183a" stroke-width="1"/>
<rect x="198.10" y="534.60" width="18.40" height="8.50" fill="#fdf1f4" stroke="#a8183a" stroke-width="1.1"/>
<line x1="198.60" y1="536.50" x2="216.00" y2="536.50" stroke="#a8183a" stroke-width="2.3"/>
<line x1="229.60" y1="479.70" x2="229.60" y2="497.70" stroke="#2b4080" stroke-width="1" stroke-dasharray="2.6,1.8"/>
<line x1="224.85" y1="479.70" x2="234.35" y2="479.70" stroke="#2b4080" stroke-width="1"/>
<line x1="229.60" y1="515.70" x2="229.60" y2="527.70" stroke="#2b4080" stroke-width="1" stroke-dasharray="2.6,1.8"/>
<line x1="224.85" y1="527.70" x2="234.35" y2="527.70" stroke="#2b4080" stroke-width="1"/>
<rect x="219.60" y="497.70" width="18.90" height="18.00" fill="#f1f4fb" stroke="#2b4080" stroke-width="1.1"/>
<line x1="220.10" y1="506.60" x2="238.00" y2="506.60" stroke="#2b4080" stroke-width="2.3"/>
<line x1="252.00" y1="516.60" x2="252.00" y2="518.90" stroke="#68aa3a" stroke-width="1" stroke-dasharray="2.6,1.8"/>
<line x1="247.25" y1="518.90" x2="256.75" y2="518.90" stroke="#68aa3a" stroke-width="1"/>
<rect x="242.70" y="513.60" width="18.80" height="3.00" fill="#f3faee" stroke="#68aa3a" stroke-width="1.1"/>
<line x1="243.20" y1="515.00" x2="261.00" y2="515.00" stroke="#68aa3a" stroke-width="2.3"/>
<line x1="274.60" y1="466.20" x2="274.60" y2="475.40" stroke="#4a1f5e" stroke-width="1" stroke-dasharray="2.6,1.8"/>
<line x1="269.85" y1="466.20" x2="279.35" y2="466.20" stroke="#4a1f5e" stroke-width="1"/>
<line x1="274.60" y1="494.20" x2="274.60" y2="495.70" stroke="#4a1f5e" stroke-width="1" stroke-dasharray="2.6,1.8"/>
<line x1="269.85" y1="495.70" x2="279.35" y2="495.70" stroke="#4a1f5e" stroke-width="1"/>
<rect x="265.30" y="475.40" width="18.90" height="18.80" fill="#f8f1fa" stroke="#4a1f5e" stroke-width="1.1"/>
<line x1="265.80" y1="484.60" x2="283.70" y2="484.60" stroke="#4a1f5e" stroke-width="2.3"/>
<circle cx="251.9" cy="507.2" r="1.2" fill="#5a8f30"/>
<rect x="192.00" y="462.80" width="97.80" height="88.00" fill="none" stroke="#111" stroke-width="1.15"/>
<line x1="188.40" y1="474.48" x2="192.00" y2="474.48" stroke="#111" stroke-width="1"/>
<text x="186.60" y="477.78" font-size="9.2" fill="#1c1c1c" color="#1c1c1c" text-anchor="end" textLength="4.45" lengthAdjust="spacingAndGlyphs">2</text>
<line x1="188.40" y1="488.14" x2="192.00" y2="488.14" stroke="#111" stroke-width="1"/>
<text x="186.60" y="491.44" font-size="9.2" fill="#1c1c1c" color="#1c1c1c" text-anchor="end" textLength="4.45" lengthAdjust="spacingAndGlyphs">1</text>
<line x1="188.40" y1="501.80" x2="192.00" y2="501.80" stroke="#111" stroke-width="1"/>
<text x="186.60" y="505.10" font-size="9.2" fill="#1c1c1c" color="#1c1c1c" text-anchor="end" textLength="4.45" lengthAdjust="spacingAndGlyphs">0</text>
<line x1="188.40" y1="515.46" x2="192.00" y2="515.46" stroke="#111" stroke-width="1"/>
<text x="186.60" y="518.76" font-size="9.2" fill="#1c1c1c" color="#1c1c1c" text-anchor="end" textLength="9.12" lengthAdjust="spacingAndGlyphs">−1</text>
<line x1="188.40" y1="529.12" x2="192.00" y2="529.12" stroke="#111" stroke-width="1"/>
<text x="186.60" y="532.42" font-size="9.2" fill="#1c1c1c" color="#1c1c1c" text-anchor="end" textLength="9.12" lengthAdjust="spacingAndGlyphs">−2</text>
<line x1="188.40" y1="542.78" x2="192.00" y2="542.78" stroke="#111" stroke-width="1"/>
<text x="186.60" y="546.08" font-size="9.2" fill="#1c1c1c" color="#1c1c1c" text-anchor="end" textLength="9.12" lengthAdjust="spacingAndGlyphs">−3</text>
<line x1="207.20" y1="550.80" x2="207.20" y2="554.20" stroke="#111" stroke-width="1"/>
<text x="209.90" y="562.80" font-size="8.4" fill="#1c1c1c" color="#1c1c1c" text-anchor="end" textLength="11.80" lengthAdjust="spacingAndGlyphs" transform="rotate(-45 209.90 562.80)">low</text>
<line x1="229.60" y1="550.80" x2="229.60" y2="554.20" stroke="#111" stroke-width="1"/>
<text x="232.30" y="562.80" font-size="8.4" fill="#1c1c1c" color="#1c1c1c" text-anchor="end" textLength="45.20" lengthAdjust="spacingAndGlyphs" transform="rotate(-45 232.30 562.80)">intermediate</text>
<line x1="252.00" y1="550.80" x2="252.00" y2="554.20" stroke="#111" stroke-width="1"/>
<text x="254.70" y="562.80" font-size="8.4" fill="#1c1c1c" color="#1c1c1c" text-anchor="end" textLength="26.20" lengthAdjust="spacingAndGlyphs" transform="rotate(-45 254.70 562.80)">mature</text>
<line x1="274.60" y1="550.80" x2="274.60" y2="554.20" stroke="#111" stroke-width="1"/>
<text x="277.30" y="562.80" font-size="8.4" fill="#1c1c1c" color="#1c1c1c" text-anchor="end" textLength="37.80" lengthAdjust="spacingAndGlyphs" transform="rotate(-45 277.30 562.80)">progenitor</text>
<line x1="202.40" y1="598.80" x2="237.70" y2="598.80" stroke="#222" stroke-width="1"/>
<text x="220.05" y="608.90" font-size="8.6" fill="#1c1c1c" color="#1c1c1c" text-anchor="middle" textLength="31.80" lengthAdjust="spacingAndGlyphs">CN-AML</text>
<text x="159.30" y="506.50" font-size="9.8" fill="#1c1c1c" color="#1c1c1c" text-anchor="middle" textLength="65.50" lengthAdjust="spacingAndGlyphs" transform="rotate(-90 159.30 506.50)">DNA methylation</text>
<text x="170.20" y="506.50" font-size="9.8" fill="#1c1c1c" color="#1c1c1c" text-anchor="middle" textLength="38.50" lengthAdjust="spacingAndGlyphs" transform="rotate(-90 170.20 506.50)">(M–value)</text>
<line x1="429.40" y1="16.50" x2="429.40" y2="162.50" stroke="#d9d9d9" stroke-width="1.4"/>
<rect x="428.70" y="22.60" width="1.40" height="2.60" fill="#222"/>
<rect x="471.80" y="18.60" width="2.00" height="2.40" fill="#667"/>
<rect x="474.60" y="18.60" width="2.20" height="2.60" fill="#334"/>
<line x1="373.50" y1="42.60" x2="511.50" y2="42.60" stroke="#b4b4b4" stroke-width="0.9"/>
<path d="M388.00,42.60 L388.80,41.20 L389.60,42.60 Z M409.30,42.60 L409.30,42.60 L409.73,40.71 L410.16,40.31 L410.59,40.23 L411.02,40.11 L411.45,40.07 L411.88,40.16 L412.31,40.13 L412.74,40.43 L413.17,40.55 L413.60,42.60 Z M421.00,42.60 L421.00,42.60 L422.00,41.10 L424.00,40.40 L426.40,39.60 L427.50,40.00 L429.00,38.00 L430.20,39.60 L431.00,42.60 L431.00,42.60 Z M432.80,42.60 L432.80,42.60 L433.22,41.28 L433.63,40.59 L434.05,40.25 L434.47,39.81 L434.88,39.90 L435.30,39.62 L435.72,39.94 L436.13,39.77 L436.55,40.05 L436.97,40.03 L437.38,40.26 L437.80,40.39 L438.22,40.58 L438.63,40.84 L439.05,41.04 L439.47,41.43 L439.88,41.76 L440.30,42.60 Z M440.60,42.60 L440.60,42.60 L441.00,41.56 L441.40,41.29 L441.80,41.30 L442.20,41.18 L442.60,41.22 L443.00,41.22 L443.40,41.26 L443.80,41.38 L444.20,41.49 L444.60,42.60 Z M447.80,42.60 L448.40,41.60 L449.00,42.60 Z M452.30,42.60 L453.05,40.60 L453.80,42.60 Z M458.50,42.60 L458.50,42.60 L458.91,39.43 L459.31,39.21 L459.72,38.69 L460.12,38.65 L460.53,38.40 L460.93,38.30 L461.34,38.27 L461.74,38.06 L462.15,38.25 L462.55,37.92 L462.96,38.31 L463.36,37.90 L463.77,38.44 L464.17,38.24 L464.58,38.68 L464.98,38.73 L465.39,39.15 L465.79,39.60 L466.20,42.60 Z M472.90,42.60 L472.90,42.60 L473.32,38.91 L473.73,38.69 L474.15,37.93 L474.57,38.09 L474.98,37.60 L475.40,37.74 L475.82,37.49 L476.23,37.52 L476.65,37.52 L477.07,37.41 L477.48,37.67 L477.90,37.43 L478.32,37.92 L478.73,37.63 L479.15,38.35 L479.57,38.35 L479.98,39.21 L480.40,42.60 Z M495.60,42.60 L496.30,41.40 L497.00,42.60 Z" fill="#3b4f9e"/>
<line x1="373.50" y1="55.50" x2="511.50" y2="55.50" stroke="#b4b4b4" stroke-width="0.9"/>
<path d="M410.00,55.50 L410.70,54.30 L411.40,55.50 Z M417.70,55.50 L418.35,54.30 L419.00,55.50 Z M424.40,55.50 L424.40,55.50 L426.00,52.50 L427.80,50.40 L429.50,51.30 L431.50,52.30 L433.80,52.30 L435.50,55.50 L435.50,55.50 Z M438.40,55.50 L439.20,53.50 L440.00,55.50 Z M461.70,55.50 L462.35,54.30 L463.00,55.50 Z M475.30,55.50 L475.30,55.50 L475.80,51.20 L478.00,51.90 L480.00,53.50 L481.10,55.50 L481.10,55.50 Z M505.60,55.50 L506.30,54.30 L507.00,55.50 Z" fill="#3b4f9e"/>
<line x1="373.50" y1="68.30" x2="511.50" y2="68.30" stroke="#b4b4b4" stroke-width="0.9"/>
<path d="M410.30,68.30 L411.15,66.80 L412.00,68.30 Z M414.70,68.30 L415.50,66.80 L416.30,68.30 Z M420.50,68.30 L421.25,67.50 L422.00,68.30 Z M425.80,68.30 L425.80,68.30 L426.22,66.03 L426.64,64.66 L427.07,64.44 L427.49,63.91 L427.91,64.34 L428.33,64.52 L428.76,65.29 L429.18,66.22 L429.60,68.30 Z M432.40,68.30 L432.40,68.30 L432.81,64.60 L433.21,64.11 L433.62,63.55 L434.03,63.59 L434.44,63.02 L434.84,63.38 L435.25,62.84 L435.66,63.37 L436.06,63.10 L436.47,63.56 L436.88,63.62 L437.29,64.07 L437.69,64.65 L438.10,68.30 Z M439.20,68.30 L439.20,68.30 L439.61,64.99 L440.01,64.54 L440.42,64.05 L440.83,64.06 L441.23,63.55 L441.64,63.85 L442.05,63.34 L442.45,63.80 L442.86,63.51 L443.27,63.89 L443.67,63.87 L444.08,64.19 L444.49,64.50 L444.89,64.96 L445.30,68.30 Z M447.80,68.30 L448.50,66.30 L449.20,68.30 Z M462.00,68.30 L462.70,66.30 L463.40,68.30 Z M473.00,68.30 L473.00,68.30 L473.41,66.34 L473.82,65.09 L474.23,64.65 L474.64,63.81 L475.05,63.66 L475.46,63.25 L475.87,63.21 L476.28,63.23 L476.69,63.15 L477.10,63.44 L477.50,63.25 L477.91,63.77 L478.32,63.53 L478.73,64.23 L479.14,64.20 L479.55,64.84 L479.96,65.08 L480.37,65.67 L480.78,66.19 L481.19,66.90 L481.60,68.30 Z" fill="#c0141a"/>
<line x1="373.50" y1="81.30" x2="511.50" y2="81.30" stroke="#b4b4b4" stroke-width="0.9"/>
<path d="M373.00,81.30 L373.75,80.50 L374.50,81.30 Z M386.50,81.30 L387.25,80.50 L388.00,81.30 Z M408.60,81.30 L408.60,81.30 L409.02,79.69 L409.45,79.16 L409.87,78.45 L410.29,78.33 L410.72,78.00 L411.14,78.09 L411.56,78.07 L411.99,78.12 L412.41,78.30 L412.84,78.31 L413.26,78.66 L413.68,78.67 L414.11,79.16 L414.53,79.29 L414.95,79.85 L415.38,80.27 L415.80,81.30 Z M418.80,81.30 L418.80,81.30 L421.00,79.30 L424.00,76.80 L428.00,74.10 L430.00,74.80 L433.00,74.50 L435.00,73.90 L437.00,75.30 L439.00,74.50 L442.70,75.10 L445.00,77.30 L447.50,79.30 L449.60,81.30 L449.60,81.30 Z M453.00,81.30 L453.60,80.30 L454.20,81.30 Z M463.50,81.30 L465.00,78.30 L466.50,81.30 Z M473.50,81.30 L473.50,81.30 L473.90,77.79 L474.31,76.95 L474.72,76.91 L475.12,76.16 L475.52,76.46 L475.93,75.88 L476.34,76.18 L476.74,75.83 L477.14,75.99 L477.55,75.89 L477.96,75.89 L478.36,76.04 L478.76,75.89 L479.17,76.29 L479.58,76.03 L479.98,76.65 L480.38,76.46 L480.79,77.26 L481.20,77.57 L481.60,81.30 Z M483.80,81.30 L484.50,79.80 L485.20,81.30 Z" fill="#c0141a"/>
<line x1="373.50" y1="94.50" x2="511.50" y2="94.50" stroke="#b4b4b4" stroke-width="0.9"/>
<path d="M408.50,94.50 L408.50,94.50 L408.92,92.76 L409.35,92.18 L409.77,91.43 L410.19,91.32 L410.62,90.99 L411.04,91.11 L411.46,91.16 L411.88,91.33 L412.31,91.68 L412.73,91.93 L413.15,92.56 L413.58,93.09 L414.00,94.50 Z M420.50,94.50 L421.05,93.50 L421.60,94.50 Z M425.50,94.50 L425.50,94.50 L425.91,93.48 L426.32,92.97 L426.73,92.66 L427.14,92.31 L427.55,92.30 L427.95,92.03 L428.36,92.31 L428.77,92.31 L429.18,92.84 L429.59,93.30 L430.00,94.50 Z M431.00,94.50 L431.00,94.50 L431.42,93.13 L431.83,92.58 L432.25,91.98 L432.67,91.92 L433.08,91.51 L433.50,91.82 L433.92,91.72 L434.33,92.11 L434.75,92.31 L435.17,92.79 L435.58,93.34 L436.00,94.50 Z M459.80,94.50 L460.40,93.50 L461.00,94.50 Z M463.00,94.50 L463.00,94.50 L463.40,93.34 L463.80,92.84 L464.20,92.39 L464.60,92.31 L465.00,92.04 L465.40,92.32 L465.80,92.32 L466.20,92.86 L466.60,93.31 L467.00,94.50 Z M474.00,94.50 L474.00,94.50 L474.41,93.27 L474.82,92.82 L475.24,92.18 L475.65,92.04 L476.06,91.59 L476.47,91.54 L476.88,91.30 L477.29,91.27 L477.71,91.27 L478.12,91.24 L478.53,91.49 L478.94,91.50 L479.35,91.98 L479.76,92.09 L480.18,92.76 L480.59,93.24 L481.00,94.50 Z" fill="#c0141a"/>
<line x1="373.50" y1="107.70" x2="511.50" y2="107.70" stroke="#b4b4b4" stroke-width="0.9"/>
<path d="M409.20,107.70 L409.20,107.70 L409.60,105.42 L410.00,105.05 L410.40,104.90 L410.80,104.64 L411.20,104.74 L411.60,104.46 L412.00,104.75 L412.40,104.53 L412.80,104.94 L413.20,104.96 L413.60,105.47 L414.00,107.70 Z M424.10,107.70 L424.10,107.70 L425.50,105.20 L427.00,103.70 L429.00,102.90 L431.00,103.10 L433.00,103.50 L435.00,104.70 L436.30,107.70 L436.30,107.70 Z M460.40,107.70 L460.95,106.70 L461.50,107.70 Z M463.00,107.70 L463.00,107.70 L463.43,106.11 L463.85,105.85 L464.27,105.75 L464.70,105.56 L465.12,105.64 L465.55,105.44 L465.98,105.65 L466.40,105.49 L466.83,105.78 L467.25,105.79 L467.68,106.14 L468.10,107.70 Z M472.90,107.70 L472.90,107.70 L473.31,106.78 L473.72,106.22 L474.13,105.96 L474.54,105.44 L474.95,105.40 L475.36,104.98 L475.77,104.98 L476.18,104.69 L476.59,104.66 L477.00,104.54 L477.41,104.45 L477.82,104.50 L478.23,104.35 L478.64,104.64 L479.05,104.55 L479.46,105.07 L479.87,105.19 L480.28,105.87 L480.69,106.39 L481.10,107.70 Z" fill="#c0141a"/>
<line x1="373.50" y1="120.70" x2="511.50" y2="120.70" stroke="#b4b4b4" stroke-width="0.9"/>
<path d="M409.50,120.70 L409.50,120.70 L409.91,118.51 L410.32,117.28 L410.73,116.85 L411.14,116.04 L411.55,116.38 L411.96,116.16 L412.37,116.91 L412.78,117.41 L413.19,118.56 L413.60,120.70 Z M421.50,120.70 L422.00,119.70 L422.50,120.70 Z M426.00,120.70 L426.00,120.70 L426.43,118.05 L426.85,117.19 L427.27,116.49 L427.70,116.60 L428.12,116.85 L428.55,117.46 L428.97,118.53 L429.40,120.70 Z M430.60,120.70 L430.60,120.70 L431.50,117.20 L433.00,116.50 L435.00,117.10 L436.50,116.30 L438.50,116.90 L440.50,116.50 L442.00,117.70 L442.80,120.70 L442.80,120.70 Z M461.60,120.70 L461.60,120.70 L462.03,119.17 L462.45,118.53 L462.88,117.86 L463.30,117.75 L463.73,117.24 L464.15,117.55 L464.57,117.40 L465.00,117.85 L465.43,118.07 L465.85,118.64 L466.27,119.30 L466.70,120.70 Z M475.30,120.70 L475.30,120.70 L475.70,118.12 L476.10,117.77 L476.50,117.38 L476.90,117.38 L477.30,116.97 L477.70,117.19 L478.10,116.76 L478.50,117.10 L478.90,116.83 L479.30,117.09 L479.70,117.01 L480.10,117.18 L480.50,117.31 L480.90,117.42 L481.30,117.79 L481.70,118.04 L482.10,120.70 Z" fill="#c0141a"/>
<line x1="373.50" y1="133.40" x2="511.50" y2="133.40" stroke="#b4b4b4" stroke-width="0.9"/>
<path d="M423.70,133.40 L423.70,133.40 L425.00,131.40 L426.50,129.40 L428.00,128.10 L430.00,128.80 L432.00,129.90 L434.00,130.20 L436.00,130.80 L438.00,131.00 L440.00,131.90 L442.10,133.40 L442.10,133.40 Z M476.30,133.40 L476.80,132.60 L477.30,133.40 Z" fill="#c0141a"/>
<line x1="373.50" y1="146.50" x2="511.50" y2="146.50" stroke="#b4b4b4" stroke-width="0.9"/>
<path d="M374.50,146.50 L375.15,145.70 L375.80,146.50 Z M410.10,146.50 L410.10,146.50 L410.51,144.09 L410.91,143.81 L411.32,143.40 L411.73,143.46 L412.13,143.03 L412.54,143.29 L412.95,142.98 L413.35,143.24 L413.76,143.10 L414.17,143.30 L414.57,143.35 L414.98,143.51 L415.39,143.79 L415.79,144.07 L416.20,146.50 Z M419.80,146.50 L419.80,146.50 L420.50,143.50 L423.00,142.90 L425.00,143.70 L427.00,142.70 L429.00,143.20 L431.00,142.60 L433.00,143.10 L435.00,142.70 L437.00,143.30 L439.00,142.80 L441.00,143.50 L443.00,143.30 L445.00,146.50 L445.00,146.50 Z M457.30,146.50 L457.30,146.50 L457.71,144.83 L458.11,144.51 L458.52,144.42 L458.93,144.16 L459.33,144.25 L459.74,143.96 L460.14,144.17 L460.55,143.96 L460.96,144.15 L461.36,144.06 L461.77,144.21 L462.18,144.25 L462.58,144.36 L462.99,144.57 L463.39,144.76 L463.80,146.50 Z M465.50,146.50 L466.25,145.30 L467.00,146.50 Z M473.20,146.50 L473.20,146.50 L473.62,144.12 L474.03,143.60 L474.45,143.45 L474.86,143.24 L475.28,143.08 L475.69,143.07 L476.11,142.83 L476.53,143.00 L476.94,142.66 L477.36,142.99 L477.77,142.67 L478.19,143.05 L478.61,142.88 L479.02,143.18 L479.44,143.20 L479.85,143.43 L480.27,143.69 L480.68,144.02 L481.10,146.50 Z" fill="#c0141a"/>
<line x1="373.50" y1="159.20" x2="511.50" y2="159.20" stroke="#b4b4b4" stroke-width="0.9"/>
<path d="M409.20,159.20 L409.85,157.70 L410.50,159.20 Z M427.00,159.20 L427.00,159.20 L427.40,157.80 L427.80,157.43 L428.20,157.41 L428.60,157.20 L429.00,157.19 L429.40,157.09 L429.80,157.02 L430.20,157.02 L430.60,156.88 L431.00,156.98 L431.40,156.76 L431.80,156.96 L432.20,156.72 L432.60,156.94 L433.00,156.79 L433.40,156.94 L433.80,156.89 L434.20,156.96 L434.60,157.00 L435.00,157.00 L435.40,157.14 L435.80,157.08 L436.20,157.31 L436.60,157.24 L437.00,157.57 L437.40,157.67 L437.80,159.20 Z M439.50,159.20 L440.15,158.20 L440.80,159.20 Z M472.90,159.20 L474.45,156.70 L476.00,159.20 Z M477.20,159.20 L478.45,157.40 L479.70,159.20 Z" fill="#c0141a"/>
<text x="306.90" y="44.30" font-size="8.3" fill="#1c1c1c" color="#1c1c1c" textLength="21.10" lengthAdjust="spacingAndGlyphs">CD34</text>
<text x="333.80" y="39.50" font-size="8" fill="#1c1c1c" color="#1c1c1c" textLength="35.50" lengthAdjust="spacingAndGlyphs">H3K4me1</text>
<text x="333.80" y="48.60" font-size="8" fill="#1c1c1c" color="#1c1c1c" textLength="33.80" lengthAdjust="spacingAndGlyphs">H3K27ac</text>
<text x="333.80" y="66.90" font-size="8" fill="#1c1c1c" color="#1c1c1c" textLength="35.50" lengthAdjust="spacingAndGlyphs">H3K4me1</text>
<text x="333.80" y="76.40" font-size="8" fill="#1c1c1c" color="#1c1c1c" textLength="33.80" lengthAdjust="spacingAndGlyphs">H3K27ac</text>
<text x="333.80" y="90.20" font-size="8" fill="#1c1c1c" color="#1c1c1c" textLength="35.50" lengthAdjust="spacingAndGlyphs">H3K4me1</text>
<text x="333.80" y="100.10" font-size="8" fill="#1c1c1c" color="#1c1c1c" textLength="33.80" lengthAdjust="spacingAndGlyphs">H3K27ac</text>
<text x="333.80" y="116.60" font-size="8" fill="#1c1c1c" color="#1c1c1c" textLength="35.50" lengthAdjust="spacingAndGlyphs">H3K4me1</text>
<text x="333.80" y="126.60" font-size="8" fill="#1c1c1c" color="#1c1c1c" textLength="33.80" lengthAdjust="spacingAndGlyphs">H3K27ac</text>
<text x="333.80" y="144.00" font-size="8" fill="#1c1c1c" color="#1c1c1c" textLength="35.50" lengthAdjust="spacingAndGlyphs">H3K4me1</text>
<text x="333.80" y="153.90" font-size="8" fill="#1c1c1c" color="#1c1c1c" textLength="33.80" lengthAdjust="spacingAndGlyphs">H3K27ac</text>
<path d="M330.60,54.30 L320.30,54.30 L320.30,156.60 L330.60,156.60" fill="none" stroke="#111" stroke-width="1.3"/>
<text x="314.20" y="105.30" font-size="8.5" fill="#1c1c1c" color="#1c1c1c" text-anchor="middle" textLength="31.80" lengthAdjust="spacingAndGlyphs" transform="rotate(-90 314.20 105.30)">CN-AML</text>
<text x="398.00" y="15.50" font-size="10" fill="#1c1c1c" color="#1c1c1c" textLength="54.30" lengthAdjust="spacingAndGlyphs">cg11334730</text>
<text x="391.50" y="176.90" font-size="10" fill="#1c1c1c" color="#1c1c1c" textLength="102.00" lengthAdjust="spacingAndGlyphs">chr6:6742948-6762981</text>
<text x="376.50" y="164.00" font-size="2.6" fill="#777" color="#777" text-anchor="middle">0.00</text>
<text x="426.50" y="164.00" font-size="2.6" fill="#777" color="#777" text-anchor="middle">6,750,000</text>
<text x="479.00" y="164.00" font-size="2.6" fill="#777" color="#777" text-anchor="middle">6,760,000</text>
<rect x="417.10" y="215.80" width="2.60" height="161.00" fill="#dcdcdc"/>
<rect x="425.80" y="219.70" width="26.00" height="2.90" fill="#3a4f9e"/>
<rect x="435.40" y="219.70" width="6.10" height="2.90" fill="#a01838"/>
<rect x="451.70" y="219.70" width="60.60" height="2.90" fill="#c0141a"/>
<rect x="425.80" y="223.50" width="9.60" height="2.90" fill="#3a4f9e"/>
<line x1="435.40" y1="225.00" x2="441.50" y2="225.00" stroke="#3a4f9e" stroke-width="0.8"/>
<rect x="441.50" y="223.50" width="10.20" height="2.90" fill="#3a4f9e"/>
<line x1="453.70" y1="225.00" x2="512.00" y2="225.00" stroke="#e08080" stroke-width="0.8"/>
<rect x="453.40" y="223.30" width="0.80" height="3.20" fill="#c0141a"/>
<rect x="462.30" y="223.70" width="2.30" height="2.50" fill="#c0141a"/>
<rect x="467.10" y="223.50" width="4.80" height="2.90" fill="#c0141a"/>
<rect x="492.70" y="223.50" width="4.20" height="2.90" fill="#c0141a"/>
<line x1="374.00" y1="249.50" x2="512.20" y2="249.50" stroke="#4a4a4a" stroke-width="1.0"/>
<path d="M374.00,249.50 L374.00,249.50 L374.00,245.20 L378.70,244.70 L383.00,244.50 L385.90,245.50 L389.50,245.90 L391.60,246.60 L392.80,249.10 L400.30,248.90 L401.70,246.90 L403.90,245.90 L407.50,245.50 L409.70,246.30 L411.80,246.90 L414.00,245.90 L416.20,244.50 L419.80,244.00 L423.40,244.50 L427.00,244.00 L430.60,245.20 L434.20,245.50 L437.80,244.90 L442.00,244.50 L445.00,244.50 L448.70,244.50 L451.50,244.00 L455.10,243.00 L458.00,244.00 L461.00,245.20 L464.50,244.00 L468.80,244.50 L473.00,244.70 L477.50,244.50 L481.80,245.20 L486.00,244.90 L490.50,245.20 L494.80,244.50 L500.60,244.50 L507.80,244.50 L511.70,244.50 L511.70,249.50 L511.70,249.50 Z" fill="#3b4f9e"/>
<line x1="374.00" y1="263.30" x2="512.20" y2="263.30" stroke="#4a4a4a" stroke-width="1.0"/>
<path d="M454.50,263.30 L455.10,262.30 L455.70,263.30 Z M464.60,263.30 L465.20,262.30 L465.80,263.30 Z M470.40,263.30 L471.55,260.40 L472.70,263.30 Z M476.00,263.30 L476.00,263.30 L477.50,260.30 L479.50,259.00 L481.50,259.50 L483.30,260.80 L486.00,261.00 L489.00,263.30 L489.00,263.30 Z M502.00,263.30 L502.00,263.30 L503.00,261.80 L507.80,261.80 L510.00,260.30 L511.70,259.00 L511.70,263.30 L511.70,263.30 Z" fill="#3b4f9e"/>
<line x1="374.00" y1="277.30" x2="512.20" y2="277.30" stroke="#4a4a4a" stroke-width="1.0"/>
<path d="M384.50,277.30 L385.05,276.50 L385.60,277.30 Z M442.50,277.30 L443.25,276.30 L444.00,277.30 Z M455.00,277.30 L455.60,276.50 L456.20,277.30 Z M509.50,277.30 L510.25,276.30 L511.00,277.30 Z" fill="#c0141a"/>
<line x1="374.00" y1="291.00" x2="512.20" y2="291.00" stroke="#4a4a4a" stroke-width="1.0"/>
<line x1="374.00" y1="304.80" x2="512.20" y2="304.80" stroke="#4a4a4a" stroke-width="1.0"/>
<path d="M375.00,304.80 L375.00,304.80 L376.00,302.80 L379.00,302.20 L381.50,302.60 L384.00,302.20 L386.50,302.80 L388.00,304.80 L388.00,304.80 Z M396.70,304.80 L396.70,304.80 L397.10,304.03 L397.50,303.98 L397.90,303.83 L398.30,303.90 L398.70,303.83 L399.10,303.92 L399.50,303.94 L399.90,304.07 L400.30,304.80 Z M403.20,304.80 L403.20,304.80 L403.62,303.21 L404.05,302.38 L404.47,301.89 L404.89,301.56 L405.32,301.31 L405.74,301.45 L406.16,301.33 L406.58,301.75 L407.01,301.73 L407.43,302.39 L407.85,302.70 L408.28,303.50 L408.70,304.80 Z M410.50,304.80 L411.05,304.00 L411.60,304.80 Z M414.00,304.80 L414.00,304.80 L414.40,303.08 L414.80,302.47 L415.20,301.73 L415.60,301.50 L416.00,301.15 L416.40,301.09 L416.80,301.16 L417.20,301.27 L417.60,301.79 L418.00,302.18 L418.40,303.16 L418.80,304.80 Z M440.00,304.80 L440.00,304.80 L441.00,303.30 L444.00,303.20 L446.50,304.80 L446.50,304.80 Z M449.00,304.80 L449.50,304.00 L450.00,304.80 Z M486.20,304.80 L486.20,304.80 L486.62,303.83 L487.03,303.45 L487.45,302.91 L487.86,302.80 L488.28,302.36 L488.69,302.33 L489.11,302.02 L489.53,301.98 L489.94,301.83 L490.36,301.75 L490.77,301.78 L491.19,301.65 L491.61,301.90 L492.02,301.82 L492.44,302.31 L492.85,302.41 L493.27,303.06 L493.68,303.55 L494.10,304.80 Z M496.30,304.80 L496.30,304.80 L496.71,303.33 L497.11,302.66 L497.52,302.23 L497.93,302.16 L498.34,302.02 L498.74,302.25 L499.15,302.11 L499.56,302.49 L499.96,302.46 L500.37,302.88 L500.78,303.05 L501.19,303.48 L501.59,303.90 L502.00,304.80 Z M505.00,304.80 L505.00,304.80 L505.41,304.15 L505.82,304.07 L506.24,303.96 L506.65,303.97 L507.06,303.85 L507.47,303.92 L507.88,303.83 L508.29,303.89 L508.71,303.85 L509.12,303.89 L509.53,303.89 L509.94,303.91 L510.35,303.96 L510.76,303.97 L511.18,304.08 L511.59,304.12 L512.00,304.80 Z" fill="#c0141a"/>
<line x1="374.00" y1="318.80" x2="512.20" y2="318.80" stroke="#4a4a4a" stroke-width="1.0"/>
<path d="M378.00,318.80 L378.00,318.80 L378.40,317.92 L378.80,317.51 L379.20,317.15 L379.60,316.83 L380.00,316.63 L380.40,316.29 L380.80,316.24 L381.20,315.83 L381.60,315.95 L382.00,315.54 L382.40,315.72 L382.80,315.43 L383.20,315.56 L383.60,315.42 L384.00,315.46 L384.40,315.50 L384.80,315.49 L385.20,315.75 L385.60,315.72 L386.00,316.16 L386.40,316.19 L386.80,316.78 L387.20,317.06 L387.60,317.73 L388.00,318.80 Z M390.90,318.80 L390.90,318.80 L391.31,316.84 L391.73,316.28 L392.14,316.33 L392.56,315.96 L392.97,316.05 L393.39,315.82 L393.80,315.86 L394.21,315.77 L394.63,315.73 L395.04,315.78 L395.46,315.64 L395.87,315.83 L396.29,315.61 L396.70,315.92 L397.11,315.70 L397.53,316.06 L397.94,315.99 L398.36,316.30 L398.77,316.42 L399.19,316.79 L399.60,318.80 Z M402.50,318.80 L402.50,318.80 L402.90,315.75 L403.31,315.45 L403.71,315.04 L404.12,314.88 L404.52,314.73 L404.93,314.50 L405.33,314.57 L405.74,314.22 L406.14,314.50 L406.55,314.03 L406.95,314.48 L407.36,314.13 L407.76,314.52 L408.17,314.36 L408.57,314.63 L408.98,314.68 L409.38,314.85 L409.79,315.14 L410.19,315.29 L410.60,315.94 L411.00,318.80 Z M414.70,318.80 L416.15,317.30 L417.60,318.80 Z M419.00,318.80 L420.50,317.30 L422.00,318.80 Z M440.70,318.80 L440.70,318.80 L442.50,316.80 L445.00,318.80 L445.00,318.80 Z M454.40,318.80 L454.40,318.80 L455.50,313.50 L457.50,314.00 L459.50,318.80 L459.50,318.80 Z M461.60,318.80 L461.60,318.80 L462.01,316.80 L462.43,315.79 L462.84,315.09 L463.26,314.72 L463.67,314.26 L464.09,314.46 L464.50,314.10 L464.91,314.55 L465.33,314.20 L465.74,314.71 L466.16,314.57 L466.57,314.97 L466.99,315.04 L467.40,315.33 L467.81,315.60 L468.23,315.83 L468.64,316.27 L469.06,316.52 L469.47,317.13 L469.89,317.58 L470.30,318.80 Z M472.50,318.80 L473.75,317.80 L475.00,318.80 Z M475.30,318.80 L475.30,318.80 L476.50,314.30 L478.00,313.00 L482.00,313.40 L486.00,313.80 L490.00,314.30 L492.00,318.80 L492.00,318.80 Z M497.70,318.80 L497.70,318.80 L499.00,314.80 L502.00,314.00 L505.00,313.50 L508.00,313.00 L511.70,313.50 L511.70,318.80 L511.70,318.80 Z" fill="#c0141a"/>
<line x1="374.00" y1="332.30" x2="512.20" y2="332.30" stroke="#4a4a4a" stroke-width="1.0"/>
<path d="M455.40,332.30 L456.00,331.10 L456.60,332.30 Z M461.10,332.30 L461.65,331.80 L462.20,332.30 Z M504.90,332.30 L504.90,332.30 L505.30,330.94 L505.70,330.64 L506.10,330.57 L506.50,330.44 L506.90,330.36 L507.30,330.35 L507.70,330.22 L508.10,330.32 L508.50,330.14 L508.90,330.33 L509.30,330.15 L509.70,330.38 L510.10,330.29 L510.50,330.48 L510.90,330.52 L511.30,330.69 L511.70,330.92 L512.10,332.30 Z" fill="#c0141a"/>
<line x1="374.00" y1="346.30" x2="512.20" y2="346.30" stroke="#4a4a4a" stroke-width="1.0"/>
<line x1="374.00" y1="360.00" x2="512.20" y2="360.00" stroke="#4a4a4a" stroke-width="1.0"/>
<path d="M374.30,360.00 L374.30,360.00 L375.00,358.00 L378.00,357.80 L382.00,357.70 L385.10,358.00 L385.60,360.00 L385.60,360.00 Z M389.00,360.00 L389.60,359.20 L390.20,360.00 Z M408.20,360.00 L408.20,360.00 L409.00,358.50 L412.00,358.00 L415.50,357.60 L418.00,358.20 L419.80,360.00 L419.80,360.00 Z M430.80,360.00 L431.30,359.20 L431.80,360.00 Z M440.40,360.00 L440.40,360.00 L441.00,358.00 L447.00,358.00 L449.40,360.00 L449.40,360.00 Z M454.40,360.00 L454.40,360.00 L454.80,358.34 L455.20,357.72 L455.60,357.56 L456.00,357.70 L456.40,357.74 L456.80,358.13 L457.20,358.34 L457.60,358.98 L458.00,360.00 Z M462.50,360.00 L463.00,359.00 L463.50,360.00 Z M477.50,360.00 L477.50,360.00 L478.50,358.00 L482.00,357.80 L486.00,357.40 L490.00,357.80 L492.60,360.00 L492.60,360.00 Z M497.70,360.00 L497.70,360.00 L499.00,358.00 L503.00,357.00 L507.00,356.00 L510.00,356.20 L512.10,356.40 L512.10,360.00 L512.10,360.00 Z" fill="#c0141a"/>
<line x1="374.00" y1="374.20" x2="512.20" y2="374.20" stroke="#4a4a4a" stroke-width="1.0"/>
<path d="M476.80,374.20 L476.80,374.20 L477.21,372.51 L477.61,371.94 L478.02,371.19 L478.43,371.11 L478.84,370.77 L479.24,370.92 L479.65,370.92 L480.06,371.07 L480.46,371.33 L480.87,371.51 L481.28,371.99 L481.69,372.30 L482.09,373.03 L482.50,374.20 Z M483.30,374.20 L483.30,374.20 L483.72,372.99 L484.15,372.90 L484.57,372.65 L484.99,372.71 L485.42,372.54 L485.84,372.60 L486.26,372.51 L486.69,372.54 L487.11,372.53 L487.54,372.52 L487.96,372.60 L488.38,372.55 L488.81,372.71 L489.23,372.65 L489.65,372.91 L490.08,372.98 L490.50,374.20 Z" fill="#c0141a"/>
<text x="304.20" y="255.00" font-size="8.3" fill="#1c1c1c" color="#1c1c1c" textLength="21.20" lengthAdjust="spacingAndGlyphs">CD34</text>
<text x="333.50" y="250.80" font-size="8" fill="#1c1c1c" color="#1c1c1c" textLength="35.50" lengthAdjust="spacingAndGlyphs">H3K4me1</text>
<text x="333.50" y="260.80" font-size="8" fill="#1c1c1c" color="#1c1c1c" textLength="33.80" lengthAdjust="spacingAndGlyphs">H3K27ac</text>
<text x="333.50" y="278.00" font-size="8" fill="#1c1c1c" color="#1c1c1c" textLength="35.50" lengthAdjust="spacingAndGlyphs">H3K4me1</text>
<text x="333.50" y="288.10" font-size="8" fill="#1c1c1c" color="#1c1c1c" textLength="33.80" lengthAdjust="spacingAndGlyphs">H3K27ac</text>
<text x="333.50" y="304.80" font-size="8" fill="#1c1c1c" color="#1c1c1c" textLength="35.50" lengthAdjust="spacingAndGlyphs">H3K4me1</text>
<text x="333.50" y="315.00" font-size="8" fill="#1c1c1c" color="#1c1c1c" textLength="33.80" lengthAdjust="spacingAndGlyphs">H3K27ac</text>
<text x="333.50" y="330.80" font-size="8" fill="#1c1c1c" color="#1c1c1c" textLength="35.50" lengthAdjust="spacingAndGlyphs">H3K4me1</text>
<text x="333.50" y="340.80" font-size="8" fill="#1c1c1c" color="#1c1c1c" textLength="33.80" lengthAdjust="spacingAndGlyphs">H3K27ac</text>
<text x="333.50" y="358.70" font-size="8" fill="#1c1c1c" color="#1c1c1c" textLength="35.50" lengthAdjust="spacingAndGlyphs">H3K4me1</text>
<text x="333.50" y="368.70" font-size="8" fill="#1c1c1c" color="#1c1c1c" textLength="33.80" lengthAdjust="spacingAndGlyphs">H3K27ac</text>
<path d="M331.00,268.00 L319.60,268.00 L319.60,370.30 L331.00,370.30" fill="none" stroke="#111" stroke-width="1.3"/>
<text x="314.20" y="319.00" font-size="8.5" fill="#1c1c1c" color="#1c1c1c" text-anchor="middle" textLength="31.80" lengthAdjust="spacingAndGlyphs" transform="rotate(-90 314.20 319.00)">CN-AML</text>
<text x="385.80" y="213.50" font-size="10" fill="#1c1c1c" color="#1c1c1c" textLength="54.20" lengthAdjust="spacingAndGlyphs">cg20281962</text>
<text x="388.70" y="390.30" font-size="10" fill="#1c1c1c" color="#1c1c1c" textLength="108.20" lengthAdjust="spacingAndGlyphs">chr10:8084702-8101872</text>
<text x="404.60" y="378.80" font-size="2.6" fill="#777" color="#777" text-anchor="middle">8,090,000</text>
<text x="447.20" y="378.80" font-size="2.6" fill="#777" color="#777" text-anchor="middle">8,095,000</text>
<text x="489.00" y="378.80" font-size="2.6" fill="#777" color="#777" text-anchor="middle">8,100,000</text>
<line x1="512.00" y1="372.00" x2="512.00" y2="375.50" stroke="#4a4a4a" stroke-width="0.8"/>
<line x1="429.70" y1="430.50" x2="429.70" y2="580.00" stroke="#d6d6d6" stroke-width="1.6"/>
<rect x="396.70" y="437.20" width="1.50" height="3.00" fill="#c0141a"/>
<line x1="374.00" y1="463.70" x2="512.00" y2="463.70" stroke="#7d7d7d" stroke-width="1.0"/>
<path d="M387.30,463.70 L387.30,463.70 L388.00,462.20 L392.00,461.70 L396.00,461.10 L400.30,460.40 L404.00,460.90 L408.00,462.20 L410.40,463.70 L410.40,463.70 Z M424.50,463.70 L424.50,463.70 L426.00,461.20 L428.50,459.90 L431.30,459.40 L434.00,460.10 L437.00,461.10 L439.20,461.50 L440.00,462.70 L442.00,461.20 L444.00,459.90 L447.20,458.90 L451.00,459.10 L455.90,459.10 L460.00,459.50 L466.00,460.10 L471.00,460.40 L476.00,460.40 L480.00,460.30 L484.70,460.10 L490.50,459.40 L495.00,459.30 L500.60,459.10 L506.00,459.20 L512.00,459.40 L512.00,463.70 L512.00,463.70 Z" fill="#3b4f9e"/>
<line x1="374.00" y1="476.70" x2="512.00" y2="476.70" stroke="#7d7d7d" stroke-width="1.0"/>
<path d="M384.50,476.70 L385.10,475.90 L385.70,476.70 Z M450.80,476.70 L450.80,476.70 L451.20,475.96 L451.60,475.59 L452.00,475.26 L452.40,475.09 L452.80,474.77 L453.20,474.76 L453.60,474.41 L454.00,474.54 L454.40,474.29 L454.80,474.44 L455.20,474.32 L455.60,474.42 L456.00,474.41 L456.40,474.44 L456.80,474.54 L457.20,474.50 L457.60,474.70 L458.00,474.62 L458.40,474.90 L458.80,474.84 L459.20,475.14 L459.60,475.19 L460.00,475.44 L460.40,475.60 L460.80,475.85 L461.20,476.14 L461.60,476.70 Z M489.80,476.70 L489.80,476.70 L490.22,475.71 L490.63,475.12 L491.05,474.90 L491.47,474.62 L491.88,474.58 L492.30,474.59 L492.72,474.64 L493.13,474.86 L493.55,475.00 L493.97,475.41 L494.38,475.75 L494.80,476.70 Z M499.10,476.70 L499.10,476.70 L500.50,473.70 L502.00,471.20 L505.00,470.20 L508.00,470.70 L510.00,471.50 L511.70,472.40 L511.70,476.70 L511.70,476.70 Z" fill="#3b4f9e"/>
<line x1="374.00" y1="489.20" x2="512.00" y2="489.20" stroke="#7d7d7d" stroke-width="1.0"/>
<path d="M390.20,489.20 L390.20,489.20 L390.62,488.36 L391.05,488.01 L391.47,487.57 L391.89,487.47 L392.32,487.09 L392.74,487.13 L393.16,486.88 L393.59,486.94 L394.01,486.85 L394.44,486.91 L394.86,487.01 L395.28,487.08 L395.71,487.36 L396.13,487.49 L396.55,487.94 L396.98,488.27 L397.40,489.20 Z M424.80,489.20 L424.80,489.20 L427.00,487.70 L430.00,486.40 L432.50,484.90 L434.50,485.40 L435.60,489.20 L435.60,489.20 Z M442.90,489.20 L442.90,489.20 L443.30,486.26 L443.70,485.93 L444.10,485.37 L444.50,485.43 L444.90,484.82 L445.30,485.10 L445.70,484.62 L446.10,484.84 L446.50,484.52 L446.90,484.61 L447.30,484.48 L447.70,484.39 L448.10,484.45 L448.50,484.19 L448.90,484.44 L449.30,484.01 L449.70,484.43 L450.10,483.95 L450.50,484.42 L450.90,484.10 L451.30,484.41 L451.70,484.27 L452.10,484.40 L452.50,484.46 L452.90,484.40 L453.30,484.65 L453.70,484.44 L454.10,484.86 L454.50,484.54 L454.90,485.10 L455.30,484.90 L455.70,485.41 L456.10,485.44 L456.50,485.89 L456.90,486.31 L457.30,489.20 Z M460.90,489.20 L460.90,489.20 L462.00,486.20 L464.00,485.20 L466.00,486.20 L470.00,485.90 L474.00,486.40 L478.00,486.00 L482.00,486.40 L484.70,489.20 L484.70,489.20 Z M486.20,489.20 L486.20,489.20 L486.60,487.90 L487.00,487.39 L487.41,486.81 L487.81,486.52 L488.21,486.17 L488.61,485.91 L489.02,485.81 L489.42,485.53 L489.82,485.68 L490.22,485.37 L490.63,485.70 L491.03,485.35 L491.43,485.71 L491.83,485.48 L492.23,485.72 L492.64,485.62 L493.04,485.73 L493.44,485.77 L493.84,485.74 L494.25,485.91 L494.65,485.76 L495.05,486.05 L495.45,485.80 L495.86,486.18 L496.26,485.99 L496.66,486.32 L497.06,486.24 L497.47,486.45 L497.87,486.49 L498.27,486.60 L498.67,486.75 L499.07,486.77 L499.48,487.01 L499.88,486.97 L500.28,487.28 L500.68,487.23 L501.09,487.57 L501.49,487.62 L501.89,487.91 L502.29,488.06 L502.70,488.33 L503.10,488.62 L503.50,489.20 Z" fill="#c0141a"/>
<line x1="374.00" y1="501.90" x2="512.00" y2="501.90" stroke="#7d7d7d" stroke-width="1.0"/>
<path d="M419.00,501.90 L420.50,499.60 L421.90,501.90 Z M431.00,501.90 L431.40,501.40 L431.80,501.90 Z M444.00,501.90 L444.00,501.90 L445.50,498.40 L449.00,497.80 L453.00,497.60 L457.00,497.90 L461.00,498.10 L463.00,498.30 L465.00,498.90 L466.00,501.90 L466.00,501.90 Z M480.40,501.90 L480.40,501.90 L480.80,501.13 L481.20,501.02 L481.60,500.95 L482.00,500.87 L482.40,500.87 L482.80,500.77 L483.20,500.83 L483.60,500.71 L484.00,500.82 L484.40,500.73 L484.80,500.83 L485.20,500.79 L485.60,500.86 L486.00,500.89 L486.40,500.93 L486.80,501.03 L487.20,501.12 L487.60,501.90 Z M497.70,501.90 L497.70,501.90 L498.11,500.32 L498.52,499.86 L498.93,499.90 L499.34,499.59 L499.75,499.66 L500.16,499.46 L500.57,499.47 L500.98,499.38 L501.39,499.32 L501.80,499.34 L502.21,499.18 L502.62,499.31 L503.03,499.07 L503.44,499.30 L503.85,499.03 L504.25,499.28 L504.66,499.11 L505.07,499.28 L505.48,499.20 L505.89,499.28 L506.30,499.32 L506.71,499.30 L507.12,499.44 L507.53,499.34 L507.94,499.59 L508.35,499.44 L508.76,499.77 L509.17,499.72 L509.58,500.05 L509.99,500.23 L510.40,501.90 Z" fill="#c0141a"/>
<line x1="374.00" y1="514.20" x2="512.00" y2="514.20" stroke="#7d7d7d" stroke-width="1.0"/>
<path d="M421.90,514.20 L421.90,514.20 L422.31,512.55 L422.72,512.09 L423.13,512.11 L423.54,511.79 L423.95,511.87 L424.36,511.65 L424.77,511.68 L425.18,511.58 L425.59,511.52 L426.00,511.54 L426.41,511.39 L426.82,511.51 L427.23,511.27 L427.64,511.50 L428.05,511.22 L428.46,511.50 L428.87,511.31 L429.28,511.50 L429.69,511.42 L430.10,511.51 L430.51,511.55 L430.92,511.55 L431.33,511.70 L431.74,511.62 L432.15,511.88 L432.56,511.76 L432.97,512.11 L433.38,512.11 L433.79,512.55 L434.20,514.20 Z M443.60,514.20 L443.60,514.20 L444.01,512.89 L444.42,512.36 L444.83,511.76 L445.25,511.43 L445.66,511.03 L446.07,510.70 L446.48,510.52 L446.89,510.12 L447.30,510.18 L447.71,509.68 L448.13,509.96 L448.54,509.47 L448.95,509.87 L449.36,509.57 L449.77,509.85 L450.18,509.73 L450.59,509.86 L451.01,509.93 L451.42,509.90 L451.83,510.15 L452.24,510.00 L452.65,510.40 L453.06,510.16 L453.47,510.68 L453.89,510.54 L454.30,510.99 L454.71,511.02 L455.12,511.36 L455.53,511.54 L455.94,511.81 L456.35,512.13 L456.77,512.38 L457.18,512.85 L457.59,513.23 L458.00,514.20 Z M461.20,514.20 L461.75,513.20 L462.30,514.20 Z M480.40,514.20 L480.40,514.20 L482.00,512.70 L486.00,511.70 L490.00,510.70 L495.00,509.20 L499.00,509.90 L502.00,514.20 L502.00,514.20 Z M508.50,514.20 L508.50,514.20 L508.90,511.51 L509.30,511.34 L509.70,510.81 L510.10,511.06 L510.50,510.80 L510.90,511.12 L511.30,511.18 L511.70,511.66 L512.10,514.20 Z" fill="#c0141a"/>
<line x1="374.00" y1="527.00" x2="512.00" y2="527.00" stroke="#7d7d7d" stroke-width="1.0"/>
<path d="M400.00,527.00 L400.50,526.40 L401.00,527.00 Z M412.50,527.00 L412.50,527.00 L412.93,526.12 L413.35,525.91 L413.77,525.94 L414.20,525.81 L414.62,525.94 L415.05,525.92 L415.47,526.12 L415.90,527.00 Z M447.90,527.00 L447.90,527.00 L448.30,526.26 L448.70,525.78 L449.11,525.58 L449.51,525.22 L449.91,525.07 L450.31,524.81 L450.72,524.64 L451.12,524.51 L451.52,524.27 L451.92,524.27 L452.33,523.95 L452.73,524.09 L453.13,523.68 L453.53,523.95 L453.93,523.65 L454.34,523.84 L454.74,523.68 L455.14,523.78 L455.54,523.75 L455.95,523.73 L456.35,523.84 L456.75,523.71 L457.15,523.94 L457.56,523.71 L457.96,524.05 L458.36,523.82 L458.76,524.16 L459.17,524.05 L459.57,524.29 L459.97,524.29 L460.37,524.43 L460.77,524.55 L461.18,524.61 L461.58,524.83 L461.98,524.82 L462.38,525.12 L462.79,525.10 L463.19,525.45 L463.59,525.53 L463.99,525.85 L464.40,526.05 L464.80,526.39 L465.20,527.00 Z M485.90,527.00 L485.90,527.00 L487.00,524.50 L492.00,523.20 L496.00,522.40 L500.00,521.70 L505.00,522.00 L509.00,522.40 L512.10,522.50 L512.10,527.00 L512.10,527.00 Z" fill="#c0141a"/>
<line x1="374.00" y1="539.40" x2="512.00" y2="539.40" stroke="#7d7d7d" stroke-width="1.0"/>
<path d="M447.20,539.40 L447.20,539.40 L449.00,536.40 L452.00,535.65 L455.00,536.40 L458.00,536.80 L462.00,535.90 L466.00,536.90 L468.80,539.40 L468.80,539.40 Z M486.20,539.40 L486.20,539.40 L486.60,538.63 L487.00,538.35 L487.41,537.95 L487.81,537.80 L488.21,537.49 L488.61,537.36 L489.01,537.15 L489.42,536.98 L489.82,536.89 L490.22,536.64 L490.62,536.68 L491.02,536.34 L491.43,536.50 L491.83,536.13 L492.23,536.36 L492.63,536.09 L493.03,536.25 L493.44,536.11 L493.84,536.16 L494.24,536.16 L494.64,536.10 L495.04,536.23 L495.45,536.05 L495.85,536.30 L496.25,536.01 L496.65,536.36 L497.05,536.12 L497.46,536.42 L497.86,536.30 L498.26,536.48 L498.66,536.48 L499.06,536.55 L499.47,536.66 L499.87,536.63 L500.27,536.85 L500.67,536.74 L501.07,537.04 L501.48,536.89 L501.88,537.23 L502.28,537.18 L502.68,537.44 L503.08,537.49 L503.49,537.68 L503.89,537.81 L504.29,537.95 L504.69,538.17 L505.09,538.30 L505.50,538.59 L505.90,538.82 L506.30,539.40 Z" fill="#c0141a"/>
<line x1="374.00" y1="551.80" x2="512.00" y2="551.80" stroke="#7d7d7d" stroke-width="1.0"/>
<path d="M447.90,551.80 L447.90,551.80 L448.30,550.48 L448.71,549.74 L449.11,549.32 L449.52,548.68 L449.92,548.57 L450.32,547.90 L450.73,548.05 L451.13,547.56 L451.54,547.72 L451.94,547.45 L452.34,547.56 L452.75,547.54 L453.15,547.55 L453.56,547.75 L453.96,547.66 L454.36,548.05 L454.77,547.90 L455.17,548.45 L455.58,548.39 L455.98,548.97 L456.38,549.13 L456.79,549.65 L457.19,550.05 L457.60,550.66 L458.00,551.80 Z M461.80,551.80 L462.40,550.80 L463.00,551.80 Z" fill="#c0141a"/>
<line x1="374.00" y1="564.20" x2="512.00" y2="564.20" stroke="#7d7d7d" stroke-width="1.0"/>
<path d="M393.80,564.20 L393.80,564.20 L394.25,563.20 L394.70,562.69 L395.15,562.51 L395.60,562.43 L396.05,562.54 L396.50,562.82 L396.95,563.21 L397.40,564.20 Z M414.70,564.20 L414.70,564.20 L416.00,563.20 L420.00,561.70 L424.00,561.60 L428.00,561.20 L432.00,560.70 L434.00,561.20 L434.90,564.20 L434.90,564.20 Z M442.90,564.20 L442.90,564.20 L444.00,560.20 L448.00,559.40 L454.00,559.40 L460.00,559.70 L464.00,560.20 L466.00,563.20 L470.00,563.40 L473.20,562.70 L475.00,560.70 L480.00,560.40 L485.00,560.00 L490.00,559.60 L495.00,560.00 L500.00,560.90 L505.00,560.60 L512.10,560.40 L512.10,564.20 L512.10,564.20 Z" fill="#c0141a"/>
<line x1="374.00" y1="577.00" x2="512.00" y2="577.00" stroke="#7d7d7d" stroke-width="1.0"/>
<path d="M412.50,577.00 L412.50,577.00 L414.00,576.50 L418.00,574.50 L421.00,573.40 L425.00,573.60 L428.00,573.40 L432.00,572.70 L435.00,574.00 L436.60,577.00 L436.60,577.00 Z M445.00,577.00 L445.00,577.00 L446.00,575.00 L449.00,574.50 L452.00,575.20 L455.00,574.50 L458.00,575.30 L461.00,574.80 L463.80,577.00 L463.80,577.00 Z M470.50,577.00 L471.00,576.00 L471.50,577.00 Z M486.20,577.00 L486.20,577.00 L489.00,574.50 L493.00,572.50 L497.00,571.40 L500.00,571.00 L505.00,571.40 L512.10,571.70 L512.10,577.00 L512.10,577.00 Z" fill="#c0141a"/>
<text x="306.90" y="465.20" font-size="8.3" fill="#1c1c1c" color="#1c1c1c" textLength="20.80" lengthAdjust="spacingAndGlyphs">CD34</text>
<text x="333.10" y="461.00" font-size="8" fill="#1c1c1c" color="#1c1c1c" textLength="35.50" lengthAdjust="spacingAndGlyphs">H3K4me1</text>
<text x="333.10" y="470.60" font-size="8" fill="#1c1c1c" color="#1c1c1c" textLength="33.80" lengthAdjust="spacingAndGlyphs">H3K27ac</text>
<text x="333.10" y="488.30" font-size="8" fill="#1c1c1c" color="#1c1c1c" textLength="35.50" lengthAdjust="spacingAndGlyphs">H3K4me1</text>
<text x="333.10" y="497.90" font-size="8" fill="#1c1c1c" color="#1c1c1c" textLength="33.80" lengthAdjust="spacingAndGlyphs">H3K27ac</text>
<text x="333.10" y="512.70" font-size="8" fill="#1c1c1c" color="#1c1c1c" textLength="35.50" lengthAdjust="spacingAndGlyphs">H3K4me1</text>
<text x="333.10" y="521.70" font-size="8" fill="#1c1c1c" color="#1c1c1c" textLength="33.80" lengthAdjust="spacingAndGlyphs">H3K27ac</text>
<text x="333.10" y="537.10" font-size="8" fill="#1c1c1c" color="#1c1c1c" textLength="35.50" lengthAdjust="spacingAndGlyphs">H3K4me1</text>
<text x="333.10" y="547.10" font-size="8" fill="#1c1c1c" color="#1c1c1c" textLength="33.80" lengthAdjust="spacingAndGlyphs">H3K27ac</text>
<text x="333.10" y="562.10" font-size="8" fill="#1c1c1c" color="#1c1c1c" textLength="35.50" lengthAdjust="spacingAndGlyphs">H3K4me1</text>
<text x="333.10" y="572.10" font-size="8" fill="#1c1c1c" color="#1c1c1c" textLength="33.80" lengthAdjust="spacingAndGlyphs">H3K27ac</text>
<path d="M330.60,478.10 L319.50,478.10 L319.50,577.50 L330.60,577.50" fill="none" stroke="#111" stroke-width="1.3"/>
<text x="314.20" y="528.00" font-size="8.5" fill="#1c1c1c" color="#1c1c1c" text-anchor="middle" textLength="31.80" lengthAdjust="spacingAndGlyphs" transform="rotate(-90 314.20 528.00)">CN-AML</text>
<text x="398.00" y="429.50" font-size="10" fill="#1c1c1c" color="#1c1c1c" textLength="54.20" lengthAdjust="spacingAndGlyphs">cg14484844</text>
<text x="380.00" y="592.00" font-size="10" fill="#1c1c1c" color="#1c1c1c" textLength="124.10" lengthAdjust="spacingAndGlyphs">chr9:139582887-139605920</text>
<text x="414.70" y="581.00" font-size="2.6" fill="#777" color="#777" text-anchor="middle">139,590,000</text>
<text x="490.50" y="581.00" font-size="2.6" fill="#777" color="#777" text-anchor="middle">139,600,000</text>
</svg>
</body></html>
